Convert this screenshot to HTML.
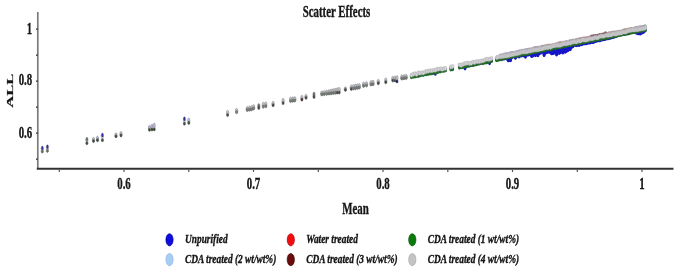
<!DOCTYPE html><html><head><meta charset="utf-8"><style>html,body{margin:0;padding:0;background:#fff;width:685px;height:274px;overflow:hidden}svg{display:block}text{font-family:"Liberation Serif",serif;font-weight:bold;fill:#141414;stroke:#141414;stroke-width:0.35}</style></head><body>
<svg width="685" height="274" viewBox="0 0 685 274">
<defs><filter id="b" x="-5%" y="-5%" width="110%" height="110%"><feGaussianBlur stdDeviation="0.35"/></filter></defs>
<rect width="685" height="274" fill="#fff"/>
<g filter="url(#b)">
<ellipse cx="42.3" cy="149.55" rx="1.12" ry="2.1" fill="#e2e2e6" stroke="#9a9a9a" stroke-width="0.4"/>
<ellipse cx="42.3" cy="148.10" rx="1.12" ry="2.1" fill="#2a2a9c" stroke="#7a7a88" stroke-width="0.4"/>
<ellipse cx="42.3" cy="151.50" rx="1.12" ry="1.6" fill="#6a6e58" stroke="#4a4a4a" stroke-width="0.4"/>
<ellipse cx="47.4" cy="148.55" rx="1.12" ry="2.1" fill="#e2e2e6" stroke="#9a9a9a" stroke-width="0.4"/>
<ellipse cx="47.4" cy="146.80" rx="1.12" ry="2.1" fill="#2a2a9c" stroke="#7a7a88" stroke-width="0.4"/>
<ellipse cx="47.4" cy="150.80" rx="1.12" ry="1.6" fill="#6a6e58" stroke="#4a4a4a" stroke-width="0.4"/>
<ellipse cx="86.9" cy="141.00" rx="1.12" ry="2.1" fill="#e2e2e6" stroke="#9a9a9a" stroke-width="0.4"/>
<ellipse cx="86.9" cy="139.30" rx="1.12" ry="2.1" fill="#6a6a74" stroke="#7a7a88" stroke-width="0.4"/>
<ellipse cx="86.9" cy="143.20" rx="1.12" ry="1.6" fill="#4a4c48" stroke="#4a4a4a" stroke-width="0.4"/>
<ellipse cx="93.5" cy="139.90" rx="1.12" ry="2.1" fill="#e2e2e6" stroke="#9a9a9a" stroke-width="0.4"/>
<ellipse cx="93.5" cy="139.30" rx="1.12" ry="2.1" fill="#c4c4c4" stroke="#7a7a88" stroke-width="0.4"/>
<ellipse cx="93.5" cy="141.00" rx="1.12" ry="1.6" fill="#2e5432" stroke="#4a4a4a" stroke-width="0.4"/>
<ellipse cx="97.5" cy="138.95" rx="1.12" ry="2.1" fill="#e2e2e6" stroke="#9a9a9a" stroke-width="0.4"/>
<ellipse cx="97.5" cy="138.20" rx="1.12" ry="2.1" fill="#bcbce0" stroke="#7a7a88" stroke-width="0.4"/>
<ellipse cx="97.5" cy="140.20" rx="1.12" ry="1.6" fill="#2e5432" stroke="#4a4a4a" stroke-width="0.4"/>
<ellipse cx="102.4" cy="137.45" rx="1.12" ry="2.1" fill="#e2e2e6" stroke="#9a9a9a" stroke-width="0.4"/>
<ellipse cx="102.4" cy="135.20" rx="1.12" ry="2.1" fill="#2a2a9c" stroke="#7a7a88" stroke-width="0.4"/>
<ellipse cx="102.4" cy="140.20" rx="1.12" ry="1.6" fill="#4a4c48" stroke="#4a4a4a" stroke-width="0.4"/>
<ellipse cx="116" cy="135.30" rx="1.12" ry="2.1" fill="#e2e2e6" stroke="#9a9a9a" stroke-width="0.4"/>
<ellipse cx="116" cy="134.80" rx="1.12" ry="2.1" fill="#c4c4c4" stroke="#7a7a88" stroke-width="0.4"/>
<ellipse cx="116" cy="136.30" rx="1.12" ry="1.6" fill="#4a4c48" stroke="#4a4a4a" stroke-width="0.4"/>
<ellipse cx="121" cy="134.20" rx="1.12" ry="2.1" fill="#e2e2e6" stroke="#9a9a9a" stroke-width="0.4"/>
<ellipse cx="121" cy="133.50" rx="1.12" ry="2.1" fill="#c4c4c4" stroke="#7a7a88" stroke-width="0.4"/>
<ellipse cx="121" cy="135.40" rx="1.12" ry="1.6" fill="#4a4c48" stroke="#4a4a4a" stroke-width="0.4"/>
<ellipse cx="149.5" cy="128.35" rx="1.12" ry="2.1" fill="#e2e2e6" stroke="#9a9a9a" stroke-width="0.4"/>
<ellipse cx="149.5" cy="127.40" rx="1.12" ry="2.1" fill="#bcbce0" stroke="#7a7a88" stroke-width="0.4"/>
<ellipse cx="149.5" cy="129.80" rx="1.12" ry="1.6" fill="#3a4a28" stroke="#4a4a4a" stroke-width="0.4"/>
<ellipse cx="152" cy="127.65" rx="1.12" ry="2.1" fill="#e2e2e6" stroke="#9a9a9a" stroke-width="0.4"/>
<ellipse cx="152" cy="126.30" rx="1.12" ry="2.1" fill="#bcbce0" stroke="#7a7a88" stroke-width="0.4"/>
<ellipse cx="152" cy="129.50" rx="1.12" ry="1.6" fill="#3a4a28" stroke="#4a4a4a" stroke-width="0.4"/>
<ellipse cx="154.2" cy="127.00" rx="1.12" ry="2.1" fill="#e2e2e6" stroke="#9a9a9a" stroke-width="0.4"/>
<ellipse cx="154.2" cy="125.20" rx="1.12" ry="2.1" fill="#bcbce0" stroke="#7a7a88" stroke-width="0.4"/>
<ellipse cx="154.2" cy="129.30" rx="1.12" ry="1.6" fill="#3a4a28" stroke="#4a4a4a" stroke-width="0.4"/>
<ellipse cx="184.4" cy="121.05" rx="1.12" ry="2.1" fill="#e2e2e6" stroke="#9a9a9a" stroke-width="0.4"/>
<ellipse cx="184.4" cy="118.90" rx="1.12" ry="2.1" fill="#2a2a9c" stroke="#7a7a88" stroke-width="0.4"/>
<ellipse cx="184.4" cy="123.70" rx="1.12" ry="1.6" fill="#4a4c48" stroke="#4a4a4a" stroke-width="0.4"/>
<ellipse cx="188.8" cy="121.20" rx="1.12" ry="2.1" fill="#e2e2e6" stroke="#9a9a9a" stroke-width="0.4"/>
<ellipse cx="188.8" cy="120.00" rx="1.12" ry="2.1" fill="#bcbce0" stroke="#7a7a88" stroke-width="0.4"/>
<ellipse cx="188.8" cy="122.90" rx="1.12" ry="1.6" fill="#2e5432" stroke="#4a4a4a" stroke-width="0.4"/>
<ellipse cx="227.6" cy="113.40" rx="1.12" ry="2.1" fill="#e2e2e6" stroke="#9a9a9a" stroke-width="0.4"/>
<ellipse cx="227.6" cy="112.30" rx="1.12" ry="2.1" fill="#c4c4c4" stroke="#7a7a88" stroke-width="0.4"/>
<ellipse cx="227.6" cy="115.00" rx="1.12" ry="1.6" fill="#4a4c48" stroke="#4a4a4a" stroke-width="0.4"/>
<ellipse cx="236.6" cy="111.05" rx="1.12" ry="2.1" fill="#e2e2e6" stroke="#9a9a9a" stroke-width="0.4"/>
<ellipse cx="236.6" cy="110.40" rx="1.12" ry="2.1" fill="#c4c4c4" stroke="#7a7a88" stroke-width="0.4"/>
<ellipse cx="236.6" cy="112.20" rx="1.12" ry="1.6" fill="#8a8a8a" stroke="#4a4a4a" stroke-width="0.4"/>
<ellipse cx="247.3" cy="108.95" rx="1.12" ry="2.1" fill="#e2e2e6" stroke="#9a9a9a" stroke-width="0.4"/>
<ellipse cx="247.3" cy="108.50" rx="1.12" ry="2.1" fill="#c4c4c4" stroke="#7a7a88" stroke-width="0.4"/>
<ellipse cx="247.3" cy="109.90" rx="1.12" ry="1.6" fill="#7a847a" stroke="#4a4a4a" stroke-width="0.4"/>
<ellipse cx="249.5" cy="108.60" rx="1.12" ry="2.1" fill="#e2e2e6" stroke="#9a9a9a" stroke-width="0.4"/>
<ellipse cx="249.5" cy="108.00" rx="1.12" ry="2.1" fill="#c4c4c4" stroke="#7a7a88" stroke-width="0.4"/>
<ellipse cx="249.5" cy="109.70" rx="1.12" ry="1.6" fill="#7a847a" stroke="#4a4a4a" stroke-width="0.4"/>
<ellipse cx="251.5" cy="108.15" rx="1.12" ry="2.1" fill="#e2e2e6" stroke="#9a9a9a" stroke-width="0.4"/>
<ellipse cx="251.5" cy="107.50" rx="1.12" ry="2.1" fill="#c4c4c4" stroke="#7a7a88" stroke-width="0.4"/>
<ellipse cx="251.5" cy="109.30" rx="1.12" ry="1.6" fill="#7a847a" stroke="#4a4a4a" stroke-width="0.4"/>
<ellipse cx="253.6" cy="107.30" rx="1.12" ry="2.1" fill="#e2e2e6" stroke="#9a9a9a" stroke-width="0.4"/>
<ellipse cx="253.6" cy="106.60" rx="1.12" ry="2.1" fill="#c4c4c4" stroke="#7a7a88" stroke-width="0.4"/>
<ellipse cx="253.6" cy="108.50" rx="1.12" ry="1.6" fill="#7a847a" stroke="#4a4a4a" stroke-width="0.4"/>
<ellipse cx="258.8" cy="106.55" rx="1.12" ry="2.1" fill="#e2e2e6" stroke="#9a9a9a" stroke-width="0.4"/>
<ellipse cx="258.8" cy="105.70" rx="1.12" ry="2.1" fill="#6a6a74" stroke="#7a7a88" stroke-width="0.4"/>
<ellipse cx="258.8" cy="107.90" rx="1.12" ry="1.6" fill="#4a4c48" stroke="#4a4a4a" stroke-width="0.4"/>
<ellipse cx="263.3" cy="105.25" rx="1.12" ry="2.1" fill="#e2e2e6" stroke="#9a9a9a" stroke-width="0.4"/>
<ellipse cx="263.3" cy="104.30" rx="1.12" ry="2.1" fill="#c4c4c4" stroke="#7a7a88" stroke-width="0.4"/>
<ellipse cx="263.3" cy="106.70" rx="1.12" ry="1.6" fill="#7a847a" stroke="#4a4a4a" stroke-width="0.4"/>
<ellipse cx="265.8" cy="104.80" rx="1.12" ry="2.1" fill="#e2e2e6" stroke="#9a9a9a" stroke-width="0.4"/>
<ellipse cx="265.8" cy="103.90" rx="1.12" ry="2.1" fill="#c4c4c4" stroke="#7a7a88" stroke-width="0.4"/>
<ellipse cx="265.8" cy="106.20" rx="1.12" ry="1.6" fill="#7a847a" stroke="#4a4a4a" stroke-width="0.4"/>
<ellipse cx="273.1" cy="104.00" rx="1.12" ry="2.1" fill="#e2e2e6" stroke="#9a9a9a" stroke-width="0.4"/>
<ellipse cx="273.1" cy="103.30" rx="1.12" ry="2.1" fill="#c4c4c4" stroke="#7a7a88" stroke-width="0.4"/>
<ellipse cx="273.1" cy="105.20" rx="1.12" ry="1.6" fill="#4a4c48" stroke="#4a4a4a" stroke-width="0.4"/>
<ellipse cx="283.1" cy="101.45" rx="1.12" ry="2.1" fill="#e2e2e6" stroke="#9a9a9a" stroke-width="0.4"/>
<ellipse cx="283.1" cy="100.30" rx="1.12" ry="2.1" fill="#c4c4c4" stroke="#7a7a88" stroke-width="0.4"/>
<ellipse cx="283.1" cy="103.10" rx="1.12" ry="1.6" fill="#4a4c48" stroke="#4a4a4a" stroke-width="0.4"/>
<ellipse cx="290.6" cy="99.80" rx="1.12" ry="2.1" fill="#e2e2e6" stroke="#9a9a9a" stroke-width="0.4"/>
<ellipse cx="290.6" cy="99.10" rx="1.12" ry="2.1" fill="#c4c4c4" stroke="#7a7a88" stroke-width="0.4"/>
<ellipse cx="290.6" cy="101.00" rx="1.12" ry="1.6" fill="#7a847a" stroke="#4a4a4a" stroke-width="0.4"/>
<ellipse cx="292.8" cy="99.50" rx="1.12" ry="2.1" fill="#e2e2e6" stroke="#9a9a9a" stroke-width="0.4"/>
<ellipse cx="292.8" cy="98.80" rx="1.12" ry="2.1" fill="#c4c4c4" stroke="#7a7a88" stroke-width="0.4"/>
<ellipse cx="292.8" cy="100.70" rx="1.12" ry="1.6" fill="#7a847a" stroke="#4a4a4a" stroke-width="0.4"/>
<ellipse cx="294.8" cy="99.30" rx="1.12" ry="2.1" fill="#e2e2e6" stroke="#9a9a9a" stroke-width="0.4"/>
<ellipse cx="294.8" cy="98.60" rx="1.12" ry="2.1" fill="#c4c4c4" stroke="#7a7a88" stroke-width="0.4"/>
<ellipse cx="294.8" cy="100.50" rx="1.12" ry="1.6" fill="#7a847a" stroke="#4a4a4a" stroke-width="0.4"/>
<ellipse cx="301.9" cy="98.20" rx="1.12" ry="2.1" fill="#e2e2e6" stroke="#9a9a9a" stroke-width="0.4"/>
<ellipse cx="301.9" cy="97.30" rx="1.12" ry="2.1" fill="#c4c4c4" stroke="#7a7a88" stroke-width="0.4"/>
<ellipse cx="301.9" cy="99.60" rx="1.12" ry="1.6" fill="#5a2a20" stroke="#4a4a4a" stroke-width="0.4"/>
<ellipse cx="306" cy="96.85" rx="1.12" ry="2.1" fill="#e2e2e6" stroke="#9a9a9a" stroke-width="0.4"/>
<ellipse cx="306" cy="96.40" rx="1.12" ry="2.1" fill="#c4c4c4" stroke="#7a7a88" stroke-width="0.4"/>
<ellipse cx="306" cy="97.80" rx="1.12" ry="1.6" fill="#4a4c48" stroke="#4a4a4a" stroke-width="0.4"/>
<ellipse cx="314" cy="95.25" rx="1.12" ry="2.1" fill="#e2e2e6" stroke="#9a9a9a" stroke-width="0.4"/>
<ellipse cx="314" cy="94.10" rx="1.12" ry="2.1" fill="#6a6a74" stroke="#7a7a88" stroke-width="0.4"/>
<ellipse cx="314" cy="96.90" rx="1.12" ry="1.6" fill="#4a4c48" stroke="#4a4a4a" stroke-width="0.4"/>
<ellipse cx="321.8" cy="93.40" rx="1.12" ry="2.1" fill="#e2e2e6" stroke="#9a9a9a" stroke-width="0.4"/>
<ellipse cx="321.8" cy="92.90" rx="1.12" ry="2.1" fill="#c4c4c4" stroke="#7a7a88" stroke-width="0.4"/>
<ellipse cx="321.8" cy="94.40" rx="1.12" ry="1.6" fill="#7a847a" stroke="#4a4a4a" stroke-width="0.4"/>
<ellipse cx="324.2" cy="93.05" rx="1.12" ry="2.1" fill="#e2e2e6" stroke="#9a9a9a" stroke-width="0.4"/>
<ellipse cx="324.2" cy="92.50" rx="1.12" ry="2.1" fill="#c4c4c4" stroke="#7a7a88" stroke-width="0.4"/>
<ellipse cx="324.2" cy="94.10" rx="1.12" ry="1.6" fill="#7a847a" stroke="#4a4a4a" stroke-width="0.4"/>
<ellipse cx="326.6" cy="92.70" rx="1.12" ry="2.1" fill="#e2e2e6" stroke="#9a9a9a" stroke-width="0.4"/>
<ellipse cx="326.6" cy="92.10" rx="1.12" ry="2.1" fill="#c4c4c4" stroke="#7a7a88" stroke-width="0.4"/>
<ellipse cx="326.6" cy="93.80" rx="1.12" ry="1.6" fill="#7a847a" stroke="#4a4a4a" stroke-width="0.4"/>
<ellipse cx="328.9" cy="92.30" rx="1.12" ry="2.1" fill="#e2e2e6" stroke="#9a9a9a" stroke-width="0.4"/>
<ellipse cx="328.9" cy="91.60" rx="1.12" ry="2.1" fill="#c4c4c4" stroke="#7a7a88" stroke-width="0.4"/>
<ellipse cx="328.9" cy="93.50" rx="1.12" ry="1.6" fill="#7a847a" stroke="#4a4a4a" stroke-width="0.4"/>
<ellipse cx="331.1" cy="91.95" rx="1.12" ry="2.1" fill="#e2e2e6" stroke="#9a9a9a" stroke-width="0.4"/>
<ellipse cx="331.1" cy="91.10" rx="1.12" ry="2.1" fill="#c4c4c4" stroke="#7a7a88" stroke-width="0.4"/>
<ellipse cx="331.1" cy="93.30" rx="1.12" ry="1.6" fill="#7a847a" stroke="#4a4a4a" stroke-width="0.4"/>
<ellipse cx="333.2" cy="91.60" rx="1.12" ry="2.1" fill="#e2e2e6" stroke="#9a9a9a" stroke-width="0.4"/>
<ellipse cx="333.2" cy="90.70" rx="1.12" ry="2.1" fill="#c4c4c4" stroke="#7a7a88" stroke-width="0.4"/>
<ellipse cx="333.2" cy="93.00" rx="1.12" ry="1.6" fill="#7a847a" stroke="#4a4a4a" stroke-width="0.4"/>
<ellipse cx="335.2" cy="91.30" rx="1.12" ry="2.1" fill="#e2e2e6" stroke="#9a9a9a" stroke-width="0.4"/>
<ellipse cx="335.2" cy="90.30" rx="1.12" ry="2.1" fill="#c4c4c4" stroke="#7a7a88" stroke-width="0.4"/>
<ellipse cx="335.2" cy="92.80" rx="1.12" ry="1.6" fill="#7a847a" stroke="#4a4a4a" stroke-width="0.4"/>
<ellipse cx="337.2" cy="90.95" rx="1.12" ry="2.1" fill="#e2e2e6" stroke="#9a9a9a" stroke-width="0.4"/>
<ellipse cx="337.2" cy="89.80" rx="1.12" ry="2.1" fill="#c4c4c4" stroke="#7a7a88" stroke-width="0.4"/>
<ellipse cx="337.2" cy="92.60" rx="1.12" ry="1.6" fill="#4a4c48" stroke="#4a4a4a" stroke-width="0.4"/>
<ellipse cx="339.2" cy="90.65" rx="1.12" ry="2.1" fill="#e2e2e6" stroke="#9a9a9a" stroke-width="0.4"/>
<ellipse cx="339.2" cy="89.30" rx="1.12" ry="2.1" fill="#c4c4c4" stroke="#7a7a88" stroke-width="0.4"/>
<ellipse cx="339.2" cy="92.50" rx="1.12" ry="1.6" fill="#4a4c48" stroke="#4a4a4a" stroke-width="0.4"/>
<ellipse cx="345.4" cy="89.05" rx="1.12" ry="2.1" fill="#e2e2e6" stroke="#9a9a9a" stroke-width="0.4"/>
<ellipse cx="345.4" cy="88.80" rx="1.12" ry="2.1" fill="#c4c4c4" stroke="#7a7a88" stroke-width="0.4"/>
<ellipse cx="345.4" cy="89.80" rx="1.12" ry="1.6" fill="#4a4c48" stroke="#4a4a4a" stroke-width="0.4"/>
<ellipse cx="351.3" cy="87.70" rx="1.12" ry="2.1" fill="#e2e2e6" stroke="#9a9a9a" stroke-width="0.4"/>
<ellipse cx="351.3" cy="87.00" rx="1.12" ry="2.1" fill="#c4c4c4" stroke="#7a7a88" stroke-width="0.4"/>
<ellipse cx="351.3" cy="88.90" rx="1.12" ry="1.6" fill="#4a4c48" stroke="#4a4a4a" stroke-width="0.4"/>
<ellipse cx="353.4" cy="87.25" rx="1.12" ry="2.1" fill="#e2e2e6" stroke="#9a9a9a" stroke-width="0.4"/>
<ellipse cx="353.4" cy="86.50" rx="1.12" ry="2.1" fill="#c4c4c4" stroke="#7a7a88" stroke-width="0.4"/>
<ellipse cx="353.4" cy="88.50" rx="1.12" ry="1.6" fill="#7a847a" stroke="#4a4a4a" stroke-width="0.4"/>
<ellipse cx="355.5" cy="86.90" rx="1.12" ry="2.1" fill="#e2e2e6" stroke="#9a9a9a" stroke-width="0.4"/>
<ellipse cx="355.5" cy="86.10" rx="1.12" ry="2.1" fill="#c4c4c4" stroke="#7a7a88" stroke-width="0.4"/>
<ellipse cx="355.5" cy="88.20" rx="1.12" ry="1.6" fill="#7a847a" stroke="#4a4a4a" stroke-width="0.4"/>
<ellipse cx="357.5" cy="86.55" rx="1.12" ry="2.1" fill="#e2e2e6" stroke="#9a9a9a" stroke-width="0.4"/>
<ellipse cx="357.5" cy="85.80" rx="1.12" ry="2.1" fill="#c4c4c4" stroke="#7a7a88" stroke-width="0.4"/>
<ellipse cx="357.5" cy="87.80" rx="1.12" ry="1.6" fill="#7a847a" stroke="#4a4a4a" stroke-width="0.4"/>
<ellipse cx="359.3" cy="86.30" rx="1.12" ry="2.1" fill="#e2e2e6" stroke="#9a9a9a" stroke-width="0.4"/>
<ellipse cx="359.3" cy="85.60" rx="1.12" ry="2.1" fill="#c4c4c4" stroke="#7a7a88" stroke-width="0.4"/>
<ellipse cx="359.3" cy="87.50" rx="1.12" ry="1.6" fill="#7a847a" stroke="#4a4a4a" stroke-width="0.4"/>
<ellipse cx="363.6" cy="84.75" rx="1.12" ry="2.1" fill="#e2e2e6" stroke="#9a9a9a" stroke-width="0.4"/>
<ellipse cx="363.6" cy="84.10" rx="1.12" ry="2.1" fill="#c4c4c4" stroke="#7a7a88" stroke-width="0.4"/>
<ellipse cx="363.6" cy="85.90" rx="1.12" ry="1.6" fill="#7a847a" stroke="#4a4a4a" stroke-width="0.4"/>
<ellipse cx="366.5" cy="84.30" rx="1.12" ry="2.1" fill="#e2e2e6" stroke="#9a9a9a" stroke-width="0.4"/>
<ellipse cx="366.5" cy="83.60" rx="1.12" ry="2.1" fill="#c4c4c4" stroke="#7a7a88" stroke-width="0.4"/>
<ellipse cx="366.5" cy="85.50" rx="1.12" ry="1.6" fill="#7a847a" stroke="#4a4a4a" stroke-width="0.4"/>
<ellipse cx="371" cy="83.25" rx="1.12" ry="2.1" fill="#e2e2e6" stroke="#9a9a9a" stroke-width="0.4"/>
<ellipse cx="371" cy="82.50" rx="1.12" ry="2.1" fill="#c4c4c4" stroke="#7a7a88" stroke-width="0.4"/>
<ellipse cx="371" cy="84.50" rx="1.12" ry="1.6" fill="#7a847a" stroke="#4a4a4a" stroke-width="0.4"/>
<ellipse cx="373" cy="82.95" rx="1.12" ry="2.1" fill="#e2e2e6" stroke="#9a9a9a" stroke-width="0.4"/>
<ellipse cx="373" cy="82.20" rx="1.12" ry="2.1" fill="#c4c4c4" stroke="#7a7a88" stroke-width="0.4"/>
<ellipse cx="373" cy="84.20" rx="1.12" ry="1.6" fill="#7a847a" stroke="#4a4a4a" stroke-width="0.4"/>
<ellipse cx="378.3" cy="82.00" rx="1.12" ry="2.1" fill="#e2e2e6" stroke="#9a9a9a" stroke-width="0.4"/>
<ellipse cx="378.3" cy="81.30" rx="1.12" ry="2.1" fill="#c4c4c4" stroke="#7a7a88" stroke-width="0.4"/>
<ellipse cx="378.3" cy="83.20" rx="1.12" ry="1.6" fill="#4a4c48" stroke="#4a4a4a" stroke-width="0.4"/>
<ellipse cx="385.8" cy="80.80" rx="1.12" ry="2.1" fill="#e2e2e6" stroke="#9a9a9a" stroke-width="0.4"/>
<ellipse cx="385.8" cy="79.90" rx="1.12" ry="2.1" fill="#c4c4c4" stroke="#7a7a88" stroke-width="0.4"/>
<ellipse cx="385.8" cy="82.20" rx="1.12" ry="1.6" fill="#2e5432" stroke="#4a4a4a" stroke-width="0.4"/>
<ellipse cx="392.8" cy="79.15" rx="1.12" ry="2.1" fill="#e2e2e6" stroke="#9a9a9a" stroke-width="0.4"/>
<ellipse cx="392.8" cy="78.30" rx="1.12" ry="2.1" fill="#c4c4c4" stroke="#7a7a88" stroke-width="0.4"/>
<ellipse cx="392.8" cy="80.50" rx="1.12" ry="1.6" fill="#4a4c48" stroke="#4a4a4a" stroke-width="0.4"/>
<ellipse cx="395" cy="79.00" rx="1.12" ry="2.1" fill="#e2e2e6" stroke="#9a9a9a" stroke-width="0.4"/>
<ellipse cx="395" cy="78.00" rx="1.12" ry="2.1" fill="#c4c4c4" stroke="#7a7a88" stroke-width="0.4"/>
<ellipse cx="395" cy="80.50" rx="1.12" ry="1.6" fill="#4a4c48" stroke="#4a4a4a" stroke-width="0.4"/>
<ellipse cx="397" cy="79.25" rx="1.12" ry="2.1" fill="#e2e2e6" stroke="#9a9a9a" stroke-width="0.4"/>
<ellipse cx="397" cy="77.60" rx="1.12" ry="2.1" fill="#c4c4c4" stroke="#7a7a88" stroke-width="0.4"/>
<ellipse cx="397" cy="81.40" rx="1.12" ry="1.6" fill="#1a1a80" stroke="#4a4a4a" stroke-width="0.4"/>
<ellipse cx="401.8" cy="77.45" rx="1.12" ry="2.1" fill="#e2e2e6" stroke="#9a9a9a" stroke-width="0.4"/>
<ellipse cx="401.8" cy="76.80" rx="1.12" ry="2.1" fill="#c4c4c4" stroke="#7a7a88" stroke-width="0.4"/>
<ellipse cx="401.8" cy="78.60" rx="1.12" ry="1.6" fill="#7a847a" stroke="#4a4a4a" stroke-width="0.4"/>
<ellipse cx="404" cy="77.15" rx="1.12" ry="2.1" fill="#e2e2e6" stroke="#9a9a9a" stroke-width="0.4"/>
<ellipse cx="404" cy="76.50" rx="1.12" ry="2.1" fill="#c4c4c4" stroke="#7a7a88" stroke-width="0.4"/>
<ellipse cx="404" cy="78.30" rx="1.12" ry="1.6" fill="#7a847a" stroke="#4a4a4a" stroke-width="0.4"/>
<ellipse cx="406.2" cy="76.90" rx="1.12" ry="2.1" fill="#e2e2e6" stroke="#9a9a9a" stroke-width="0.4"/>
<ellipse cx="406.2" cy="76.30" rx="1.12" ry="2.1" fill="#c4c4c4" stroke="#7a7a88" stroke-width="0.4"/>
<ellipse cx="406.2" cy="78.00" rx="1.12" ry="1.6" fill="#7a847a" stroke="#4a4a4a" stroke-width="0.4"/>
<g fill="#1616c8"><ellipse cx="411.4" cy="76.18" rx="1.45" ry="2.1"/><ellipse cx="413.1" cy="75.95" rx="1.45" ry="2.1"/><ellipse cx="414.9" cy="75.66" rx="1.45" ry="2.1"/><ellipse cx="416.6" cy="75.45" rx="1.45" ry="2.1"/><ellipse cx="418.2" cy="74.96" rx="1.45" ry="2.1"/><ellipse cx="419.9" cy="74.78" rx="1.45" ry="2.1"/><ellipse cx="421.6" cy="73.74" rx="1.45" ry="2.1"/><ellipse cx="423.4" cy="73.76" rx="1.45" ry="2.1"/><ellipse cx="425.1" cy="73.82" rx="1.45" ry="2.1"/><ellipse cx="426.8" cy="73.25" rx="1.45" ry="2.1"/><ellipse cx="428.4" cy="73.13" rx="1.45" ry="2.1"/><ellipse cx="430.1" cy="72.17" rx="1.45" ry="2.1"/><ellipse cx="431.9" cy="72.13" rx="1.45" ry="2.1"/><ellipse cx="433.6" cy="71.62" rx="1.45" ry="2.1"/><ellipse cx="435.2" cy="71.53" rx="1.45" ry="2.1"/><ellipse cx="436.9" cy="71.23" rx="1.45" ry="2.1"/><ellipse cx="438.6" cy="70.45" rx="1.45" ry="2.1"/><ellipse cx="440.4" cy="70.28" rx="1.45" ry="2.1"/><ellipse cx="442.1" cy="70.01" rx="1.45" ry="2.1"/><ellipse cx="443.8" cy="70.17" rx="1.45" ry="2.1"/><ellipse cx="443.8" cy="70.19" rx="1.45" ry="2.1"/><ellipse cx="445.4" cy="69.74" rx="1.45" ry="2.1"/><ellipse cx="450.9" cy="68.21" rx="1.45" ry="2.1"/><ellipse cx="452.6" cy="68.40" rx="1.45" ry="2.1"/><ellipse cx="459.4" cy="66.56" rx="1.45" ry="2.1"/><ellipse cx="461.1" cy="66.61" rx="1.45" ry="2.1"/><ellipse cx="462.8" cy="65.89" rx="1.45" ry="2.1"/><ellipse cx="464.4" cy="65.47" rx="1.45" ry="2.1"/><ellipse cx="466.1" cy="65.69" rx="1.45" ry="2.1"/><ellipse cx="466.1" cy="65.83" rx="1.45" ry="2.1"/><ellipse cx="467.9" cy="64.98" rx="1.45" ry="2.1"/><ellipse cx="469.6" cy="64.65" rx="1.45" ry="2.1"/><ellipse cx="471.2" cy="64.66" rx="1.45" ry="2.1"/><ellipse cx="471.2" cy="64.94" rx="1.45" ry="2.1"/><ellipse cx="472.9" cy="64.32" rx="1.45" ry="2.1"/><ellipse cx="472.9" cy="64.52" rx="1.45" ry="2.1"/><ellipse cx="474.6" cy="63.73" rx="1.45" ry="2.1"/><ellipse cx="476.4" cy="63.64" rx="1.45" ry="2.1"/><ellipse cx="476.4" cy="63.94" rx="1.45" ry="2.1"/><ellipse cx="478.1" cy="63.27" rx="1.45" ry="2.1"/><ellipse cx="479.8" cy="62.96" rx="1.45" ry="2.1"/><ellipse cx="479.8" cy="63.06" rx="1.45" ry="2.1"/><ellipse cx="481.4" cy="62.35" rx="1.45" ry="2.1"/><ellipse cx="483.1" cy="62.28" rx="1.45" ry="2.1"/><ellipse cx="483.1" cy="62.61" rx="1.45" ry="2.1"/><ellipse cx="484.9" cy="61.94" rx="1.45" ry="2.1"/><ellipse cx="484.9" cy="62.08" rx="1.45" ry="2.1"/><ellipse cx="486.6" cy="61.60" rx="1.45" ry="2.1"/><ellipse cx="486.6" cy="61.98" rx="1.45" ry="2.1"/><ellipse cx="488.2" cy="61.26" rx="1.45" ry="2.1"/><ellipse cx="488.2" cy="61.59" rx="1.45" ry="2.1"/><ellipse cx="489.9" cy="60.79" rx="1.45" ry="2.1"/><ellipse cx="491.6" cy="60.51" rx="1.45" ry="2.1"/><ellipse cx="496.6" cy="59.39" rx="1.45" ry="2.1"/><ellipse cx="497.9" cy="59.13" rx="1.45" ry="2.1"/><ellipse cx="499.1" cy="58.82" rx="1.45" ry="2.1"/><ellipse cx="500.4" cy="58.78" rx="1.45" ry="2.1"/><ellipse cx="501.6" cy="58.58" rx="1.45" ry="2.1"/><ellipse cx="501.6" cy="58.80" rx="1.45" ry="2.1"/><ellipse cx="502.9" cy="58.11" rx="1.45" ry="2.1"/><ellipse cx="504.1" cy="58.08" rx="1.45" ry="2.1"/><ellipse cx="504.1" cy="58.43" rx="1.45" ry="2.1"/><ellipse cx="505.4" cy="57.81" rx="1.45" ry="2.1"/><ellipse cx="506.6" cy="57.58" rx="1.45" ry="2.1"/><ellipse cx="506.6" cy="58.36" rx="1.45" ry="2.1"/><ellipse cx="507.9" cy="57.33" rx="1.45" ry="2.1"/><ellipse cx="507.9" cy="57.34" rx="1.45" ry="2.1"/><ellipse cx="509.1" cy="57.08" rx="1.45" ry="2.1"/><ellipse cx="509.1" cy="58.58" rx="1.45" ry="2.1"/><ellipse cx="509.1" cy="59.95" rx="1.45" ry="2.1"/><ellipse cx="510.4" cy="56.83" rx="1.45" ry="2.1"/><ellipse cx="510.4" cy="58.33" rx="1.45" ry="2.1"/><ellipse cx="510.4" cy="59.83" rx="1.45" ry="2.1"/><ellipse cx="510.4" cy="60.16" rx="1.45" ry="2.1"/><ellipse cx="511.6" cy="56.58" rx="1.45" ry="2.1"/><ellipse cx="511.6" cy="57.39" rx="1.45" ry="2.1"/><ellipse cx="512.9" cy="56.00" rx="1.45" ry="2.1"/><ellipse cx="514.1" cy="56.08" rx="1.45" ry="2.1"/><ellipse cx="514.1" cy="56.34" rx="1.45" ry="2.1"/><ellipse cx="515.4" cy="55.83" rx="1.45" ry="2.1"/><ellipse cx="515.4" cy="57.33" rx="1.45" ry="2.1"/><ellipse cx="515.4" cy="57.76" rx="1.45" ry="2.1"/><ellipse cx="516.6" cy="55.58" rx="1.45" ry="2.1"/><ellipse cx="516.6" cy="55.66" rx="1.45" ry="2.1"/><ellipse cx="517.9" cy="55.32" rx="1.45" ry="2.1"/><ellipse cx="517.9" cy="55.51" rx="1.45" ry="2.1"/><ellipse cx="519.1" cy="55.07" rx="1.45" ry="2.1"/><ellipse cx="519.1" cy="56.50" rx="1.45" ry="2.1"/><ellipse cx="520.4" cy="54.82" rx="1.45" ry="2.1"/><ellipse cx="520.4" cy="55.38" rx="1.45" ry="2.1"/><ellipse cx="521.6" cy="54.57" rx="1.45" ry="2.1"/><ellipse cx="521.6" cy="55.49" rx="1.45" ry="2.1"/><ellipse cx="522.9" cy="54.32" rx="1.45" ry="2.1"/><ellipse cx="522.9" cy="54.64" rx="1.45" ry="2.1"/><ellipse cx="524.1" cy="54.07" rx="1.45" ry="2.1"/><ellipse cx="524.1" cy="55.56" rx="1.45" ry="2.1"/><ellipse cx="525.4" cy="53.82" rx="1.45" ry="2.1"/><ellipse cx="525.4" cy="54.16" rx="1.45" ry="2.1"/><ellipse cx="526.6" cy="53.57" rx="1.45" ry="2.1"/><ellipse cx="526.6" cy="54.07" rx="1.45" ry="2.1"/><ellipse cx="527.9" cy="53.32" rx="1.45" ry="2.1"/><ellipse cx="527.9" cy="54.71" rx="1.45" ry="2.1"/><ellipse cx="529.1" cy="53.07" rx="1.45" ry="2.1"/><ellipse cx="529.1" cy="54.10" rx="1.45" ry="2.1"/><ellipse cx="530.4" cy="52.82" rx="1.45" ry="2.1"/><ellipse cx="530.4" cy="54.24" rx="1.45" ry="2.1"/><ellipse cx="531.6" cy="52.57" rx="1.45" ry="2.1"/><ellipse cx="531.6" cy="54.07" rx="1.45" ry="2.1"/><ellipse cx="531.6" cy="55.57" rx="1.45" ry="2.1"/><ellipse cx="531.6" cy="55.89" rx="1.45" ry="2.1"/><ellipse cx="532.9" cy="52.32" rx="1.45" ry="2.1"/><ellipse cx="532.9" cy="53.82" rx="1.45" ry="2.1"/><ellipse cx="532.9" cy="55.32" rx="1.45" ry="2.1"/><ellipse cx="532.9" cy="55.33" rx="1.45" ry="2.1"/><ellipse cx="534.1" cy="52.07" rx="1.45" ry="2.1"/><ellipse cx="534.1" cy="53.57" rx="1.45" ry="2.1"/><ellipse cx="534.1" cy="53.92" rx="1.45" ry="2.1"/><ellipse cx="535.4" cy="51.82" rx="1.45" ry="2.1"/><ellipse cx="535.4" cy="53.32" rx="1.45" ry="2.1"/><ellipse cx="535.4" cy="54.82" rx="1.45" ry="2.1"/><ellipse cx="535.4" cy="55.09" rx="1.45" ry="2.1"/><ellipse cx="536.6" cy="51.57" rx="1.45" ry="2.1"/><ellipse cx="536.6" cy="53.07" rx="1.45" ry="2.1"/><ellipse cx="536.6" cy="54.03" rx="1.45" ry="2.1"/><ellipse cx="537.9" cy="51.32" rx="1.45" ry="2.1"/><ellipse cx="537.9" cy="52.82" rx="1.45" ry="2.1"/><ellipse cx="537.9" cy="54.32" rx="1.45" ry="2.1"/><ellipse cx="537.9" cy="55.13" rx="1.45" ry="2.1"/><ellipse cx="539.1" cy="51.07" rx="1.45" ry="2.1"/><ellipse cx="539.1" cy="52.57" rx="1.45" ry="2.1"/><ellipse cx="539.1" cy="53.06" rx="1.45" ry="2.1"/><ellipse cx="540.4" cy="50.82" rx="1.45" ry="2.1"/><ellipse cx="540.4" cy="52.32" rx="1.45" ry="2.1"/><ellipse cx="540.4" cy="52.68" rx="1.45" ry="2.1"/><ellipse cx="541.6" cy="50.57" rx="1.45" ry="2.1"/><ellipse cx="541.6" cy="51.87" rx="1.45" ry="2.1"/><ellipse cx="542.9" cy="50.32" rx="1.45" ry="2.1"/><ellipse cx="542.9" cy="51.67" rx="1.45" ry="2.1"/><ellipse cx="544.1" cy="50.07" rx="1.45" ry="2.1"/><ellipse cx="544.1" cy="51.57" rx="1.45" ry="2.1"/><ellipse cx="544.1" cy="53.07" rx="1.45" ry="2.1"/><ellipse cx="544.1" cy="54.57" rx="1.45" ry="2.1"/><ellipse cx="544.1" cy="54.99" rx="1.45" ry="2.1"/><ellipse cx="545.4" cy="49.82" rx="1.45" ry="2.1"/><ellipse cx="545.4" cy="51.32" rx="1.45" ry="2.1"/><ellipse cx="545.4" cy="52.45" rx="1.45" ry="2.1"/><ellipse cx="546.6" cy="49.57" rx="1.45" ry="2.1"/><ellipse cx="546.6" cy="51.07" rx="1.45" ry="2.1"/><ellipse cx="546.6" cy="52.25" rx="1.45" ry="2.1"/><ellipse cx="547.9" cy="49.32" rx="1.45" ry="2.1"/><ellipse cx="547.9" cy="50.82" rx="1.45" ry="2.1"/><ellipse cx="547.9" cy="51.50" rx="1.45" ry="2.1"/><ellipse cx="549.1" cy="49.07" rx="1.45" ry="2.1"/><ellipse cx="549.1" cy="50.57" rx="1.45" ry="2.1"/><ellipse cx="549.1" cy="51.65" rx="1.45" ry="2.1"/><ellipse cx="550.4" cy="48.82" rx="1.45" ry="2.1"/><ellipse cx="550.4" cy="50.32" rx="1.45" ry="2.1"/><ellipse cx="550.4" cy="51.82" rx="1.45" ry="2.1"/><ellipse cx="550.4" cy="51.96" rx="1.45" ry="2.1"/><ellipse cx="551.6" cy="48.57" rx="1.45" ry="2.1"/><ellipse cx="551.6" cy="50.07" rx="1.45" ry="2.1"/><ellipse cx="551.6" cy="51.57" rx="1.45" ry="2.1"/><ellipse cx="551.6" cy="53.07" rx="1.45" ry="2.1"/><ellipse cx="551.6" cy="53.17" rx="1.45" ry="2.1"/><ellipse cx="552.9" cy="48.32" rx="1.45" ry="2.1"/><ellipse cx="552.9" cy="49.82" rx="1.45" ry="2.1"/><ellipse cx="552.9" cy="51.32" rx="1.45" ry="2.1"/><ellipse cx="552.9" cy="52.82" rx="1.45" ry="2.1"/><ellipse cx="552.9" cy="53.22" rx="1.45" ry="2.1"/><ellipse cx="554.1" cy="48.07" rx="1.45" ry="2.1"/><ellipse cx="554.1" cy="49.57" rx="1.45" ry="2.1"/><ellipse cx="554.1" cy="51.07" rx="1.45" ry="2.1"/><ellipse cx="554.1" cy="52.52" rx="1.45" ry="2.1"/><ellipse cx="555.4" cy="47.82" rx="1.45" ry="2.1"/><ellipse cx="555.4" cy="49.32" rx="1.45" ry="2.1"/><ellipse cx="555.4" cy="50.82" rx="1.45" ry="2.1"/><ellipse cx="555.4" cy="52.32" rx="1.45" ry="2.1"/><ellipse cx="555.4" cy="52.53" rx="1.45" ry="2.1"/><ellipse cx="556.6" cy="47.57" rx="1.45" ry="2.1"/><ellipse cx="556.6" cy="49.07" rx="1.45" ry="2.1"/><ellipse cx="556.6" cy="50.57" rx="1.45" ry="2.1"/><ellipse cx="556.6" cy="52.07" rx="1.45" ry="2.1"/><ellipse cx="556.6" cy="53.57" rx="1.45" ry="2.1"/><ellipse cx="556.6" cy="54.50" rx="1.45" ry="2.1"/><ellipse cx="557.9" cy="47.32" rx="1.45" ry="2.1"/><ellipse cx="557.9" cy="48.82" rx="1.45" ry="2.1"/><ellipse cx="557.9" cy="50.32" rx="1.45" ry="2.1"/><ellipse cx="557.9" cy="51.82" rx="1.45" ry="2.1"/><ellipse cx="557.9" cy="52.14" rx="1.45" ry="2.1"/><ellipse cx="559.1" cy="47.07" rx="1.45" ry="2.1"/><ellipse cx="559.1" cy="48.57" rx="1.45" ry="2.1"/><ellipse cx="559.1" cy="50.07" rx="1.45" ry="2.1"/><ellipse cx="559.1" cy="51.57" rx="1.45" ry="2.1"/><ellipse cx="559.1" cy="52.96" rx="1.45" ry="2.1"/><ellipse cx="560.4" cy="46.82" rx="1.45" ry="2.1"/><ellipse cx="560.4" cy="48.32" rx="1.45" ry="2.1"/><ellipse cx="560.4" cy="49.82" rx="1.45" ry="2.1"/><ellipse cx="560.4" cy="51.32" rx="1.45" ry="2.1"/><ellipse cx="560.4" cy="52.12" rx="1.45" ry="2.1"/><ellipse cx="561.6" cy="46.57" rx="1.45" ry="2.1"/><ellipse cx="561.6" cy="48.07" rx="1.45" ry="2.1"/><ellipse cx="561.6" cy="49.57" rx="1.45" ry="2.1"/><ellipse cx="561.6" cy="51.07" rx="1.45" ry="2.1"/><ellipse cx="561.6" cy="51.35" rx="1.45" ry="2.1"/><ellipse cx="562.9" cy="46.32" rx="1.45" ry="2.1"/><ellipse cx="562.9" cy="47.82" rx="1.45" ry="2.1"/><ellipse cx="562.9" cy="49.32" rx="1.45" ry="2.1"/><ellipse cx="562.9" cy="50.82" rx="1.45" ry="2.1"/><ellipse cx="562.9" cy="52.32" rx="1.45" ry="2.1"/><ellipse cx="562.9" cy="52.34" rx="1.45" ry="2.1"/><ellipse cx="564.1" cy="46.07" rx="1.45" ry="2.1"/><ellipse cx="564.1" cy="47.57" rx="1.45" ry="2.1"/><ellipse cx="564.1" cy="49.07" rx="1.45" ry="2.1"/><ellipse cx="564.1" cy="50.57" rx="1.45" ry="2.1"/><ellipse cx="564.1" cy="51.51" rx="1.45" ry="2.1"/><ellipse cx="565.4" cy="45.82" rx="1.45" ry="2.1"/><ellipse cx="565.4" cy="47.32" rx="1.45" ry="2.1"/><ellipse cx="565.4" cy="48.82" rx="1.45" ry="2.1"/><ellipse cx="565.4" cy="50.32" rx="1.45" ry="2.1"/><ellipse cx="565.4" cy="51.61" rx="1.45" ry="2.1"/><ellipse cx="566.6" cy="45.57" rx="1.45" ry="2.1"/><ellipse cx="566.6" cy="47.07" rx="1.45" ry="2.1"/><ellipse cx="566.6" cy="48.57" rx="1.45" ry="2.1"/><ellipse cx="566.6" cy="50.07" rx="1.45" ry="2.1"/><ellipse cx="566.6" cy="50.87" rx="1.45" ry="2.1"/><ellipse cx="567.9" cy="45.31" rx="1.45" ry="2.1"/><ellipse cx="567.9" cy="46.81" rx="1.45" ry="2.1"/><ellipse cx="567.9" cy="48.31" rx="1.45" ry="2.1"/><ellipse cx="567.9" cy="49.81" rx="1.45" ry="2.1"/><ellipse cx="567.9" cy="49.82" rx="1.45" ry="2.1"/><ellipse cx="569.1" cy="45.06" rx="1.45" ry="2.1"/><ellipse cx="569.1" cy="46.56" rx="1.45" ry="2.1"/><ellipse cx="569.1" cy="48.06" rx="1.45" ry="2.1"/><ellipse cx="569.1" cy="49.13" rx="1.45" ry="2.1"/><ellipse cx="570.4" cy="44.81" rx="1.45" ry="2.1"/><ellipse cx="570.4" cy="46.31" rx="1.45" ry="2.1"/><ellipse cx="570.4" cy="47.81" rx="1.45" ry="2.1"/><ellipse cx="570.4" cy="49.07" rx="1.45" ry="2.1"/><ellipse cx="571.6" cy="44.56" rx="1.45" ry="2.1"/><ellipse cx="571.6" cy="46.06" rx="1.45" ry="2.1"/><ellipse cx="571.6" cy="46.89" rx="1.45" ry="2.1"/><ellipse cx="572.9" cy="44.31" rx="1.45" ry="2.1"/><ellipse cx="572.9" cy="45.81" rx="1.45" ry="2.1"/><ellipse cx="572.9" cy="46.05" rx="1.45" ry="2.1"/><ellipse cx="574.1" cy="44.06" rx="1.45" ry="2.1"/><ellipse cx="574.1" cy="44.67" rx="1.45" ry="2.1"/><ellipse cx="575.4" cy="43.81" rx="1.45" ry="2.1"/><ellipse cx="575.4" cy="44.99" rx="1.45" ry="2.1"/><ellipse cx="576.6" cy="43.56" rx="1.45" ry="2.1"/><ellipse cx="576.6" cy="45.06" rx="1.45" ry="2.1"/><ellipse cx="577.9" cy="43.31" rx="1.45" ry="2.1"/><ellipse cx="577.9" cy="44.63" rx="1.45" ry="2.1"/><ellipse cx="579.1" cy="43.06" rx="1.45" ry="2.1"/><ellipse cx="579.1" cy="44.56" rx="1.45" ry="2.1"/><ellipse cx="579.1" cy="44.64" rx="1.45" ry="2.1"/><ellipse cx="580.4" cy="42.81" rx="1.45" ry="2.1"/><ellipse cx="580.4" cy="44.24" rx="1.45" ry="2.1"/><ellipse cx="581.6" cy="42.56" rx="1.45" ry="2.1"/><ellipse cx="581.6" cy="44.06" rx="1.45" ry="2.1"/><ellipse cx="581.6" cy="44.10" rx="1.45" ry="2.1"/><ellipse cx="582.9" cy="42.31" rx="1.45" ry="2.1"/><ellipse cx="582.9" cy="43.47" rx="1.45" ry="2.1"/><ellipse cx="584.1" cy="42.06" rx="1.45" ry="2.1"/><ellipse cx="584.1" cy="43.45" rx="1.45" ry="2.1"/><ellipse cx="585.4" cy="41.81" rx="1.45" ry="2.1"/><ellipse cx="585.4" cy="43.26" rx="1.45" ry="2.1"/><ellipse cx="586.6" cy="41.56" rx="1.45" ry="2.1"/><ellipse cx="586.6" cy="43.06" rx="1.45" ry="2.1"/><ellipse cx="586.6" cy="43.06" rx="1.45" ry="2.1"/><ellipse cx="587.9" cy="41.31" rx="1.45" ry="2.1"/><ellipse cx="587.9" cy="42.42" rx="1.45" ry="2.1"/><ellipse cx="589.1" cy="41.06" rx="1.45" ry="2.1"/><ellipse cx="589.1" cy="42.54" rx="1.45" ry="2.1"/><ellipse cx="590.4" cy="40.81" rx="1.45" ry="2.1"/><ellipse cx="590.4" cy="42.30" rx="1.45" ry="2.1"/><ellipse cx="591.6" cy="40.56" rx="1.45" ry="2.1"/><ellipse cx="591.6" cy="41.87" rx="1.45" ry="2.1"/><ellipse cx="592.9" cy="40.31" rx="1.45" ry="2.1"/><ellipse cx="592.9" cy="41.81" rx="1.45" ry="2.1"/><ellipse cx="592.9" cy="41.82" rx="1.45" ry="2.1"/><ellipse cx="594.1" cy="40.06" rx="1.45" ry="2.1"/><ellipse cx="594.1" cy="41.53" rx="1.45" ry="2.1"/><ellipse cx="595.4" cy="39.81" rx="1.45" ry="2.1"/><ellipse cx="595.4" cy="40.90" rx="1.45" ry="2.1"/><ellipse cx="596.6" cy="39.56" rx="1.45" ry="2.1"/><ellipse cx="596.6" cy="40.63" rx="1.45" ry="2.1"/><ellipse cx="597.9" cy="39.31" rx="1.45" ry="2.1"/><ellipse cx="597.9" cy="40.06" rx="1.45" ry="2.1"/><ellipse cx="599.1" cy="39.06" rx="1.45" ry="2.1"/><ellipse cx="599.1" cy="40.32" rx="1.45" ry="2.1"/><ellipse cx="600.4" cy="38.81" rx="1.45" ry="2.1"/><ellipse cx="600.4" cy="40.12" rx="1.45" ry="2.1"/><ellipse cx="601.6" cy="38.56" rx="1.45" ry="2.1"/><ellipse cx="601.6" cy="39.48" rx="1.45" ry="2.1"/><ellipse cx="602.9" cy="38.31" rx="1.45" ry="2.1"/><ellipse cx="602.9" cy="39.37" rx="1.45" ry="2.1"/><ellipse cx="604.1" cy="38.06" rx="1.45" ry="2.1"/><ellipse cx="604.1" cy="39.11" rx="1.45" ry="2.1"/><ellipse cx="605.4" cy="37.81" rx="1.45" ry="2.1"/><ellipse cx="605.4" cy="38.84" rx="1.45" ry="2.1"/><ellipse cx="606.6" cy="37.56" rx="1.45" ry="2.1"/><ellipse cx="606.6" cy="38.12" rx="1.45" ry="2.1"/><ellipse cx="607.9" cy="37.31" rx="1.45" ry="2.1"/><ellipse cx="607.9" cy="38.32" rx="1.45" ry="2.1"/><ellipse cx="609.1" cy="37.06" rx="1.45" ry="2.1"/><ellipse cx="609.1" cy="37.89" rx="1.45" ry="2.1"/><ellipse cx="610.4" cy="36.81" rx="1.45" ry="2.1"/><ellipse cx="610.4" cy="37.68" rx="1.45" ry="2.1"/><ellipse cx="611.6" cy="36.56" rx="1.45" ry="2.1"/><ellipse cx="611.6" cy="37.20" rx="1.45" ry="2.1"/><ellipse cx="612.9" cy="36.31" rx="1.45" ry="2.1"/><ellipse cx="612.9" cy="36.95" rx="1.45" ry="2.1"/><ellipse cx="614.1" cy="36.06" rx="1.45" ry="2.1"/><ellipse cx="614.1" cy="36.62" rx="1.45" ry="2.1"/><ellipse cx="615.4" cy="35.81" rx="1.45" ry="2.1"/><ellipse cx="615.4" cy="36.05" rx="1.45" ry="2.1"/><ellipse cx="616.6" cy="35.56" rx="1.45" ry="2.1"/><ellipse cx="616.6" cy="35.66" rx="1.45" ry="2.1"/><ellipse cx="617.9" cy="34.64" rx="1.45" ry="2.1"/><ellipse cx="619.1" cy="34.48" rx="1.45" ry="2.1"/><ellipse cx="620.4" cy="34.46" rx="1.45" ry="2.1"/><ellipse cx="621.6" cy="34.37" rx="1.45" ry="2.1"/><ellipse cx="622.9" cy="33.78" rx="1.45" ry="2.1"/><ellipse cx="624.1" cy="33.90" rx="1.45" ry="2.1"/><ellipse cx="625.4" cy="33.61" rx="1.45" ry="2.1"/><ellipse cx="626.6" cy="32.89" rx="1.45" ry="2.1"/><ellipse cx="627.9" cy="32.98" rx="1.45" ry="2.1"/><ellipse cx="629.1" cy="32.53" rx="1.45" ry="2.1"/><ellipse cx="630.4" cy="32.15" rx="1.45" ry="2.1"/><ellipse cx="631.6" cy="31.96" rx="1.45" ry="2.1"/><ellipse cx="632.9" cy="31.86" rx="1.45" ry="2.1"/><ellipse cx="634.1" cy="31.60" rx="1.45" ry="2.1"/><ellipse cx="635.4" cy="31.80" rx="1.45" ry="2.1"/><ellipse cx="635.4" cy="32.19" rx="1.45" ry="2.1"/><ellipse cx="636.6" cy="31.55" rx="1.45" ry="2.1"/><ellipse cx="636.6" cy="32.65" rx="1.45" ry="2.1"/><ellipse cx="637.9" cy="31.30" rx="1.45" ry="2.1"/><ellipse cx="637.9" cy="32.80" rx="1.45" ry="2.1"/><ellipse cx="637.9" cy="33.27" rx="1.45" ry="2.1"/><ellipse cx="639.1" cy="31.05" rx="1.45" ry="2.1"/><ellipse cx="639.1" cy="32.55" rx="1.45" ry="2.1"/><ellipse cx="639.1" cy="33.37" rx="1.45" ry="2.1"/><ellipse cx="640.4" cy="30.80" rx="1.45" ry="2.1"/><ellipse cx="640.4" cy="32.30" rx="1.45" ry="2.1"/><ellipse cx="640.4" cy="33.46" rx="1.45" ry="2.1"/><ellipse cx="641.6" cy="30.55" rx="1.45" ry="2.1"/><ellipse cx="641.6" cy="32.05" rx="1.45" ry="2.1"/><ellipse cx="641.6" cy="32.77" rx="1.45" ry="2.1"/><ellipse cx="642.9" cy="30.30" rx="1.45" ry="2.1"/><ellipse cx="642.9" cy="31.80" rx="1.45" ry="2.1"/><ellipse cx="642.9" cy="31.82" rx="1.45" ry="2.1"/><ellipse cx="644.1" cy="30.05" rx="1.45" ry="2.1"/><ellipse cx="644.1" cy="31.38" rx="1.45" ry="2.1"/><ellipse cx="645.4" cy="29.66" rx="1.45" ry="2.1"/><ellipse cx="435.3" cy="73.76" rx="1.45" ry="2.1"/><ellipse cx="435.3" cy="72.26" rx="1.45" ry="2.1"/><ellipse cx="465.0" cy="68.32" rx="1.45" ry="2.1"/><ellipse cx="465.0" cy="66.82" rx="1.45" ry="2.1"/><ellipse cx="489.6" cy="63.09" rx="1.45" ry="2.1"/><ellipse cx="489.6" cy="61.59" rx="1.45" ry="2.1"/><ellipse cx="508.2" cy="60.37" rx="1.45" ry="2.1"/><ellipse cx="508.2" cy="58.87" rx="1.45" ry="2.1"/><ellipse cx="525.5" cy="56.70" rx="1.45" ry="2.1"/><ellipse cx="525.5" cy="55.20" rx="1.45" ry="2.1"/></g>
<g fill="#246a28"><ellipse cx="411.4" cy="77.09" rx="1.45" ry="2.1"/><ellipse cx="413.1" cy="76.69" rx="1.45" ry="2.1"/><ellipse cx="414.9" cy="76.41" rx="1.45" ry="2.1"/><ellipse cx="416.6" cy="75.92" rx="1.45" ry="2.1"/><ellipse cx="418.2" cy="75.94" rx="1.45" ry="2.1"/><ellipse cx="419.9" cy="75.37" rx="1.45" ry="2.1"/><ellipse cx="421.6" cy="74.86" rx="1.45" ry="2.1"/><ellipse cx="423.4" cy="74.81" rx="1.45" ry="2.1"/><ellipse cx="425.1" cy="74.21" rx="1.45" ry="2.1"/><ellipse cx="426.8" cy="74.10" rx="1.45" ry="2.1"/><ellipse cx="428.4" cy="73.65" rx="1.45" ry="2.1"/><ellipse cx="430.1" cy="73.43" rx="1.45" ry="2.1"/><ellipse cx="431.9" cy="73.28" rx="1.45" ry="2.1"/><ellipse cx="433.6" cy="72.87" rx="1.45" ry="2.1"/><ellipse cx="435.2" cy="72.33" rx="1.45" ry="2.1"/><ellipse cx="436.9" cy="72.19" rx="1.45" ry="2.1"/><ellipse cx="438.6" cy="71.76" rx="1.45" ry="2.1"/><ellipse cx="440.4" cy="71.29" rx="1.45" ry="2.1"/><ellipse cx="442.1" cy="70.83" rx="1.45" ry="2.1"/><ellipse cx="443.8" cy="70.72" rx="1.45" ry="2.1"/><ellipse cx="445.4" cy="70.36" rx="1.45" ry="2.1"/><ellipse cx="450.9" cy="69.48" rx="1.45" ry="2.1"/><ellipse cx="452.6" cy="69.14" rx="1.45" ry="2.1"/><ellipse cx="459.4" cy="67.60" rx="1.45" ry="2.1"/><ellipse cx="461.1" cy="67.13" rx="1.45" ry="2.1"/><ellipse cx="462.8" cy="67.06" rx="1.45" ry="2.1"/><ellipse cx="464.4" cy="66.28" rx="1.45" ry="2.1"/><ellipse cx="466.1" cy="65.99" rx="1.45" ry="2.1"/><ellipse cx="467.9" cy="65.88" rx="1.45" ry="2.1"/><ellipse cx="469.6" cy="65.56" rx="1.45" ry="2.1"/><ellipse cx="471.2" cy="64.98" rx="1.45" ry="2.1"/><ellipse cx="472.9" cy="64.89" rx="1.45" ry="2.1"/><ellipse cx="474.6" cy="64.68" rx="1.45" ry="2.1"/><ellipse cx="476.4" cy="64.08" rx="1.45" ry="2.1"/><ellipse cx="478.1" cy="63.77" rx="1.45" ry="2.1"/><ellipse cx="479.8" cy="63.33" rx="1.45" ry="2.1"/><ellipse cx="481.4" cy="63.02" rx="1.45" ry="2.1"/><ellipse cx="483.1" cy="63.02" rx="1.45" ry="2.1"/><ellipse cx="484.9" cy="62.38" rx="1.45" ry="2.1"/><ellipse cx="486.6" cy="62.33" rx="1.45" ry="2.1"/><ellipse cx="488.2" cy="61.97" rx="1.45" ry="2.1"/><ellipse cx="489.9" cy="61.47" rx="1.45" ry="2.1"/><ellipse cx="491.6" cy="60.96" rx="1.45" ry="2.1"/><ellipse cx="496.6" cy="60.26" rx="1.45" ry="2.1"/><ellipse cx="497.9" cy="59.73" rx="1.45" ry="2.1"/><ellipse cx="499.1" cy="59.40" rx="1.45" ry="2.1"/><ellipse cx="500.4" cy="59.06" rx="1.45" ry="2.1"/><ellipse cx="501.6" cy="59.10" rx="1.45" ry="2.1"/><ellipse cx="502.9" cy="58.56" rx="1.45" ry="2.1"/><ellipse cx="504.1" cy="58.17" rx="1.45" ry="2.1"/><ellipse cx="505.4" cy="57.97" rx="1.45" ry="2.1"/><ellipse cx="506.6" cy="57.50" rx="1.45" ry="2.1"/><ellipse cx="507.9" cy="57.46" rx="1.45" ry="2.1"/><ellipse cx="509.1" cy="57.08" rx="1.45" ry="2.1"/><ellipse cx="510.4" cy="56.72" rx="1.45" ry="2.1"/><ellipse cx="511.6" cy="56.72" rx="1.45" ry="2.1"/><ellipse cx="512.9" cy="56.49" rx="1.45" ry="2.1"/><ellipse cx="514.1" cy="55.83" rx="1.45" ry="2.1"/><ellipse cx="515.4" cy="55.84" rx="1.45" ry="2.1"/><ellipse cx="516.6" cy="55.46" rx="1.45" ry="2.1"/><ellipse cx="517.9" cy="55.54" rx="1.45" ry="2.1"/><ellipse cx="519.1" cy="55.22" rx="1.45" ry="2.1"/><ellipse cx="520.4" cy="54.70" rx="1.45" ry="2.1"/><ellipse cx="521.6" cy="54.46" rx="1.45" ry="2.1"/><ellipse cx="522.9" cy="54.15" rx="1.45" ry="2.1"/><ellipse cx="524.1" cy="54.32" rx="1.45" ry="2.1"/><ellipse cx="525.4" cy="53.72" rx="1.45" ry="2.1"/><ellipse cx="526.6" cy="53.63" rx="1.45" ry="2.1"/><ellipse cx="527.9" cy="53.31" rx="1.45" ry="2.1"/><ellipse cx="529.1" cy="53.15" rx="1.45" ry="2.1"/><ellipse cx="530.4" cy="52.87" rx="1.45" ry="2.1"/><ellipse cx="531.6" cy="52.69" rx="1.45" ry="2.1"/><ellipse cx="532.9" cy="52.13" rx="1.45" ry="2.1"/><ellipse cx="534.1" cy="52.20" rx="1.45" ry="2.1"/><ellipse cx="535.4" cy="51.72" rx="1.45" ry="2.1"/><ellipse cx="536.6" cy="51.59" rx="1.45" ry="2.1"/><ellipse cx="537.9" cy="51.24" rx="1.45" ry="2.1"/><ellipse cx="539.1" cy="50.97" rx="1.45" ry="2.1"/><ellipse cx="540.4" cy="50.84" rx="1.45" ry="2.1"/><ellipse cx="541.6" cy="50.55" rx="1.45" ry="2.1"/><ellipse cx="542.9" cy="50.25" rx="1.45" ry="2.1"/><ellipse cx="544.1" cy="50.19" rx="1.45" ry="2.1"/><ellipse cx="545.4" cy="49.86" rx="1.45" ry="2.1"/><ellipse cx="546.6" cy="49.34" rx="1.45" ry="2.1"/><ellipse cx="547.9" cy="49.20" rx="1.45" ry="2.1"/><ellipse cx="549.1" cy="49.05" rx="1.45" ry="2.1"/><ellipse cx="550.4" cy="49.03" rx="1.45" ry="2.1"/><ellipse cx="551.6" cy="48.76" rx="1.45" ry="2.1"/><ellipse cx="552.9" cy="48.34" rx="1.45" ry="2.1"/><ellipse cx="554.1" cy="47.82" rx="1.45" ry="2.1"/><ellipse cx="555.4" cy="47.96" rx="1.45" ry="2.1"/><ellipse cx="556.6" cy="47.53" rx="1.45" ry="2.1"/><ellipse cx="557.9" cy="47.35" rx="1.45" ry="2.1"/><ellipse cx="559.1" cy="47.17" rx="1.45" ry="2.1"/><ellipse cx="560.4" cy="46.88" rx="1.45" ry="2.1"/><ellipse cx="561.6" cy="46.56" rx="1.45" ry="2.1"/><ellipse cx="562.9" cy="46.52" rx="1.45" ry="2.1"/><ellipse cx="564.1" cy="46.01" rx="1.45" ry="2.1"/><ellipse cx="565.4" cy="45.76" rx="1.45" ry="2.1"/><ellipse cx="566.6" cy="45.74" rx="1.45" ry="2.1"/><ellipse cx="567.9" cy="45.16" rx="1.45" ry="2.1"/><ellipse cx="569.1" cy="44.96" rx="1.45" ry="2.1"/><ellipse cx="570.4" cy="44.98" rx="1.45" ry="2.1"/><ellipse cx="571.6" cy="44.35" rx="1.45" ry="2.1"/><ellipse cx="572.9" cy="44.48" rx="1.45" ry="2.1"/><ellipse cx="574.1" cy="44.16" rx="1.45" ry="2.1"/><ellipse cx="575.4" cy="43.78" rx="1.45" ry="2.1"/><ellipse cx="576.6" cy="43.46" rx="1.45" ry="2.1"/><ellipse cx="577.9" cy="43.45" rx="1.45" ry="2.1"/><ellipse cx="579.1" cy="43.27" rx="1.45" ry="2.1"/><ellipse cx="580.4" cy="42.63" rx="1.45" ry="2.1"/><ellipse cx="581.6" cy="42.55" rx="1.45" ry="2.1"/><ellipse cx="582.9" cy="42.34" rx="1.45" ry="2.1"/><ellipse cx="584.1" cy="42.06" rx="1.45" ry="2.1"/><ellipse cx="585.4" cy="41.73" rx="1.45" ry="2.1"/><ellipse cx="586.6" cy="41.39" rx="1.45" ry="2.1"/><ellipse cx="587.9" cy="41.35" rx="1.45" ry="2.1"/><ellipse cx="589.1" cy="41.22" rx="1.45" ry="2.1"/><ellipse cx="590.4" cy="40.59" rx="1.45" ry="2.1"/><ellipse cx="591.6" cy="40.43" rx="1.45" ry="2.1"/><ellipse cx="592.9" cy="40.47" rx="1.45" ry="2.1"/><ellipse cx="594.1" cy="40.21" rx="1.45" ry="2.1"/><ellipse cx="595.4" cy="39.89" rx="1.45" ry="2.1"/><ellipse cx="596.6" cy="39.32" rx="1.45" ry="2.1"/><ellipse cx="597.9" cy="39.42" rx="1.45" ry="2.1"/><ellipse cx="599.1" cy="39.30" rx="1.45" ry="2.1"/><ellipse cx="600.4" cy="39.06" rx="1.45" ry="2.1"/><ellipse cx="601.6" cy="38.66" rx="1.45" ry="2.1"/><ellipse cx="602.9" cy="38.08" rx="1.45" ry="2.1"/><ellipse cx="604.1" cy="38.23" rx="1.45" ry="2.1"/><ellipse cx="605.4" cy="37.67" rx="1.45" ry="2.1"/><ellipse cx="606.6" cy="37.63" rx="1.45" ry="2.1"/><ellipse cx="607.9" cy="37.53" rx="1.45" ry="2.1"/><ellipse cx="609.1" cy="37.16" rx="1.45" ry="2.1"/><ellipse cx="610.4" cy="36.62" rx="1.45" ry="2.1"/><ellipse cx="611.6" cy="36.45" rx="1.45" ry="2.1"/><ellipse cx="612.9" cy="36.51" rx="1.45" ry="2.1"/><ellipse cx="614.1" cy="35.88" rx="1.45" ry="2.1"/><ellipse cx="615.4" cy="35.86" rx="1.45" ry="2.1"/><ellipse cx="616.6" cy="35.51" rx="1.45" ry="2.1"/><ellipse cx="617.9" cy="35.14" rx="1.45" ry="2.1"/><ellipse cx="619.1" cy="35.12" rx="1.45" ry="2.1"/><ellipse cx="620.4" cy="34.58" rx="1.45" ry="2.1"/><ellipse cx="621.6" cy="34.36" rx="1.45" ry="2.1"/><ellipse cx="622.9" cy="34.24" rx="1.45" ry="2.1"/><ellipse cx="624.1" cy="33.84" rx="1.45" ry="2.1"/><ellipse cx="625.4" cy="33.58" rx="1.45" ry="2.1"/><ellipse cx="626.6" cy="33.59" rx="1.45" ry="2.1"/><ellipse cx="627.9" cy="33.42" rx="1.45" ry="2.1"/><ellipse cx="629.1" cy="33.24" rx="1.45" ry="2.1"/><ellipse cx="630.4" cy="32.62" rx="1.45" ry="2.1"/><ellipse cx="631.6" cy="32.52" rx="1.45" ry="2.1"/><ellipse cx="632.9" cy="32.21" rx="1.45" ry="2.1"/><ellipse cx="634.1" cy="32.10" rx="1.45" ry="2.1"/><ellipse cx="635.4" cy="31.80" rx="1.45" ry="2.1"/><ellipse cx="636.6" cy="31.77" rx="1.45" ry="2.1"/><ellipse cx="637.9" cy="31.24" rx="1.45" ry="2.1"/><ellipse cx="639.1" cy="30.83" rx="1.45" ry="2.1"/><ellipse cx="640.4" cy="30.90" rx="1.45" ry="2.1"/><ellipse cx="641.6" cy="30.38" rx="1.45" ry="2.1"/><ellipse cx="642.9" cy="30.37" rx="1.45" ry="2.1"/><ellipse cx="644.1" cy="30.05" rx="1.45" ry="2.1"/><ellipse cx="645.4" cy="30.00" rx="1.45" ry="2.1"/></g>
<ellipse cx="500.4" cy="55.69" rx="1.45" ry="2.1" fill="#b4aec8"/><ellipse cx="501.6" cy="55.38" rx="1.45" ry="2.1" fill="#b4aec8"/><ellipse cx="502.9" cy="55.25" rx="1.45" ry="2.1" fill="#b4aec8"/><ellipse cx="504.1" cy="54.55" rx="1.45" ry="2.1" fill="#b4aec8"/><ellipse cx="505.4" cy="54.45" rx="1.45" ry="2.1" fill="#b4aec8"/><ellipse cx="506.6" cy="54.05" rx="1.45" ry="2.1" fill="#b4aec8"/><ellipse cx="507.9" cy="54.11" rx="1.45" ry="2.1" fill="#b4aec8"/><ellipse cx="509.1" cy="53.86" rx="1.45" ry="2.1" fill="#b4aec8"/><ellipse cx="510.4" cy="53.21" rx="1.45" ry="2.1" fill="#b4aec8"/><ellipse cx="511.6" cy="53.04" rx="1.45" ry="2.1" fill="#b4aec8"/><ellipse cx="512.9" cy="52.96" rx="1.45" ry="2.1" fill="#aaaaaa"/><ellipse cx="514.1" cy="52.93" rx="1.45" ry="2.1" fill="#b4aec8"/><ellipse cx="515.4" cy="52.63" rx="1.45" ry="2.1" fill="#b4aec8"/><ellipse cx="516.6" cy="51.98" rx="1.45" ry="2.1" fill="#b4aec8"/><ellipse cx="517.9" cy="52.10" rx="1.45" ry="2.1" fill="#aaaaaa"/><ellipse cx="519.1" cy="51.46" rx="1.45" ry="2.1" fill="#b4aec8"/><ellipse cx="520.4" cy="51.59" rx="1.45" ry="2.1" fill="#aaaaaa"/><ellipse cx="521.6" cy="50.97" rx="1.45" ry="2.1" fill="#aaaaaa"/><ellipse cx="522.9" cy="50.87" rx="1.45" ry="2.1" fill="#b4aec8"/><ellipse cx="524.1" cy="50.61" rx="1.45" ry="2.1" fill="#b4aec8"/><ellipse cx="525.4" cy="50.37" rx="1.45" ry="2.1" fill="#b4aec8"/><ellipse cx="526.6" cy="49.97" rx="1.45" ry="2.1" fill="#b4aec8"/><ellipse cx="527.9" cy="50.08" rx="1.45" ry="2.1" fill="#aaaaaa"/><ellipse cx="529.1" cy="49.68" rx="1.45" ry="2.1" fill="#aaaaaa"/><ellipse cx="530.4" cy="49.48" rx="1.45" ry="2.1" fill="#aaaaaa"/><ellipse cx="531.6" cy="49.27" rx="1.45" ry="2.1" fill="#b4aec8"/><ellipse cx="532.9" cy="48.90" rx="1.45" ry="2.1" fill="#b4aec8"/><ellipse cx="534.1" cy="48.39" rx="1.45" ry="2.1" fill="#b89a9a"/><ellipse cx="535.4" cy="48.15" rx="1.45" ry="2.1" fill="#b89a9a"/><ellipse cx="536.6" cy="48.21" rx="1.45" ry="2.1" fill="#aaaaaa"/><ellipse cx="537.9" cy="47.62" rx="1.45" ry="2.1" fill="#aaaaaa"/><ellipse cx="539.1" cy="47.99" rx="1.45" ry="2.1" fill="#b4aec8"/><ellipse cx="540.4" cy="47.42" rx="1.45" ry="2.1" fill="#b4aec8"/><ellipse cx="541.6" cy="46.94" rx="1.45" ry="2.1" fill="#b4aec8"/><ellipse cx="542.9" cy="46.73" rx="1.45" ry="2.1" fill="#b89a9a"/><ellipse cx="544.1" cy="46.64" rx="1.45" ry="2.1" fill="#b89a9a"/><ellipse cx="545.4" cy="46.23" rx="1.45" ry="2.1" fill="#aaaaaa"/><ellipse cx="546.6" cy="46.06" rx="1.45" ry="2.1" fill="#b89a9a"/><ellipse cx="547.9" cy="45.82" rx="1.45" ry="2.1" fill="#b89a9a"/><ellipse cx="549.1" cy="45.71" rx="1.45" ry="2.1" fill="#b89a9a"/><ellipse cx="550.4" cy="45.77" rx="1.45" ry="2.1" fill="#b89a9a"/><ellipse cx="551.6" cy="45.52" rx="1.45" ry="2.1" fill="#b89a9a"/><ellipse cx="552.9" cy="45.09" rx="1.45" ry="2.1" fill="#b4aec8"/><ellipse cx="554.1" cy="45.03" rx="1.45" ry="2.1" fill="#b4aec8"/><ellipse cx="555.4" cy="44.59" rx="1.45" ry="2.1" fill="#b89a9a"/><ellipse cx="556.6" cy="44.34" rx="1.45" ry="2.1" fill="#b89a9a"/><ellipse cx="557.9" cy="43.73" rx="1.45" ry="2.1" fill="#b4aec8"/><ellipse cx="559.1" cy="43.38" rx="1.45" ry="2.1" fill="#b89a9a"/><ellipse cx="560.4" cy="43.17" rx="1.45" ry="2.1" fill="#b89a9a"/><ellipse cx="561.6" cy="43.55" rx="1.45" ry="2.1" fill="#b89a9a"/><ellipse cx="562.9" cy="42.83" rx="1.45" ry="2.1" fill="#b89a9a"/><ellipse cx="564.1" cy="42.56" rx="1.45" ry="2.1" fill="#b4aec8"/><ellipse cx="565.4" cy="42.62" rx="1.45" ry="2.1" fill="#b4aec8"/><ellipse cx="566.6" cy="42.03" rx="1.45" ry="2.1" fill="#b89a9a"/><ellipse cx="567.9" cy="42.27" rx="1.45" ry="2.1" fill="#b4aec8"/><ellipse cx="569.1" cy="41.67" rx="1.45" ry="2.1" fill="#b4aec8"/><ellipse cx="570.4" cy="41.12" rx="1.45" ry="2.1" fill="#aaaaaa"/><ellipse cx="571.6" cy="41.41" rx="1.45" ry="2.1" fill="#b89a9a"/><ellipse cx="572.9" cy="40.65" rx="1.45" ry="2.1" fill="#b89a9a"/><ellipse cx="574.1" cy="41.06" rx="1.45" ry="2.1" fill="#b4aec8"/><ellipse cx="575.4" cy="40.36" rx="1.45" ry="2.1" fill="#b4aec8"/><ellipse cx="576.6" cy="39.91" rx="1.45" ry="2.1" fill="#b89a9a"/><ellipse cx="577.9" cy="39.96" rx="1.45" ry="2.1" fill="#aaaaaa"/><ellipse cx="579.1" cy="39.40" rx="1.45" ry="2.1" fill="#aaaaaa"/><ellipse cx="580.4" cy="39.15" rx="1.45" ry="2.1" fill="#b89a9a"/><ellipse cx="581.6" cy="38.90" rx="1.45" ry="2.1" fill="#b89a9a"/><ellipse cx="582.9" cy="38.90" rx="1.45" ry="2.1" fill="#b89a9a"/><ellipse cx="584.1" cy="38.40" rx="1.45" ry="2.1" fill="#b89a9a"/><ellipse cx="585.4" cy="38.79" rx="1.45" ry="2.1" fill="#b89a9a"/><ellipse cx="586.6" cy="38.22" rx="1.45" ry="2.1" fill="#b89a9a"/><ellipse cx="587.9" cy="37.98" rx="1.45" ry="2.1" fill="#b89a9a"/><ellipse cx="589.1" cy="37.58" rx="1.45" ry="2.1" fill="#b89a9a"/><ellipse cx="590.4" cy="37.49" rx="1.45" ry="2.1" fill="#b89a9a"/><ellipse cx="591.6" cy="37.28" rx="1.45" ry="2.1" fill="#aaaaaa"/><ellipse cx="592.9" cy="36.76" rx="1.45" ry="2.1" fill="#aaaaaa"/><ellipse cx="594.1" cy="36.74" rx="1.45" ry="2.1" fill="#b89a9a"/><ellipse cx="595.4" cy="36.51" rx="1.45" ry="2.1" fill="#b4aec8"/><ellipse cx="596.6" cy="36.30" rx="1.45" ry="2.1" fill="#b89a9a"/><ellipse cx="597.9" cy="36.25" rx="1.45" ry="2.1" fill="#b4aec8"/><ellipse cx="599.1" cy="35.67" rx="1.45" ry="2.1" fill="#b89a9a"/><ellipse cx="600.4" cy="35.27" rx="1.45" ry="2.1" fill="#aaaaaa"/><ellipse cx="601.6" cy="35.08" rx="1.45" ry="2.1" fill="#b89a9a"/><ellipse cx="602.9" cy="35.15" rx="1.45" ry="2.1" fill="#b89a9a"/><ellipse cx="604.1" cy="34.58" rx="1.45" ry="2.1" fill="#aaaaaa"/><ellipse cx="605.4" cy="34.16" rx="1.45" ry="2.1" fill="#b89a9a"/><ellipse cx="606.6" cy="33.92" rx="1.45" ry="2.1" fill="#b89a9a"/><ellipse cx="607.9" cy="34.01" rx="1.45" ry="2.1" fill="#b89a9a"/><ellipse cx="609.1" cy="33.40" rx="1.45" ry="2.1" fill="#b89a9a"/><ellipse cx="610.4" cy="33.14" rx="1.45" ry="2.1" fill="#b4aec8"/><ellipse cx="611.6" cy="33.06" rx="1.45" ry="2.1" fill="#b89a9a"/><ellipse cx="612.9" cy="32.67" rx="1.45" ry="2.1" fill="#b89a9a"/><ellipse cx="614.1" cy="32.58" rx="1.45" ry="2.1" fill="#b89a9a"/><ellipse cx="615.4" cy="32.49" rx="1.45" ry="2.1" fill="#aaaaaa"/><ellipse cx="616.6" cy="32.31" rx="1.45" ry="2.1" fill="#aaaaaa"/><ellipse cx="617.9" cy="32.01" rx="1.45" ry="2.1" fill="#aaaaaa"/><ellipse cx="619.1" cy="31.93" rx="1.45" ry="2.1" fill="#b89a9a"/><ellipse cx="620.4" cy="31.77" rx="1.45" ry="2.1" fill="#b4aec8"/><ellipse cx="621.6" cy="31.34" rx="1.45" ry="2.1" fill="#b4aec8"/><ellipse cx="622.9" cy="31.17" rx="1.45" ry="2.1" fill="#b89a9a"/><ellipse cx="624.1" cy="30.44" rx="1.45" ry="2.1" fill="#b89a9a"/><ellipse cx="625.4" cy="30.22" rx="1.45" ry="2.1" fill="#b89a9a"/><ellipse cx="626.6" cy="30.33" rx="1.45" ry="2.1" fill="#b89a9a"/><ellipse cx="627.9" cy="29.65" rx="1.45" ry="2.1" fill="#b89a9a"/><ellipse cx="629.1" cy="29.74" rx="1.45" ry="2.1" fill="#aaaaaa"/><ellipse cx="630.4" cy="29.14" rx="1.45" ry="2.1" fill="#b89a9a"/><ellipse cx="631.6" cy="29.10" rx="1.45" ry="2.1" fill="#b89a9a"/><ellipse cx="632.9" cy="29.27" rx="1.45" ry="2.1" fill="#aaaaaa"/><ellipse cx="634.1" cy="28.51" rx="1.45" ry="2.1" fill="#b4aec8"/><ellipse cx="635.4" cy="28.36" rx="1.45" ry="2.1" fill="#b89a9a"/><ellipse cx="636.6" cy="27.86" rx="1.45" ry="2.1" fill="#b89a9a"/><ellipse cx="637.9" cy="28.18" rx="1.45" ry="2.1" fill="#b4aec8"/><ellipse cx="639.1" cy="27.42" rx="1.45" ry="2.1" fill="#b4aec8"/><ellipse cx="640.4" cy="27.22" rx="1.45" ry="2.1" fill="#b4aec8"/><ellipse cx="641.6" cy="27.16" rx="1.45" ry="2.1" fill="#b4aec8"/><ellipse cx="642.9" cy="27.16" rx="1.45" ry="2.1" fill="#aaaaaa"/><ellipse cx="644.1" cy="26.57" rx="1.45" ry="2.1" fill="#b89a9a"/><ellipse cx="645.4" cy="26.42" rx="1.45" ry="2.1" fill="#aaaaaa"/><ellipse cx="591.5" cy="36.54" rx="1.45" ry="2.1" fill="#8a6470"/><ellipse cx="593.5" cy="36.14" rx="1.45" ry="2.1" fill="#8a6470"/><ellipse cx="595.5" cy="36.00" rx="1.45" ry="2.1" fill="#8a6470"/><ellipse cx="597.5" cy="35.74" rx="1.45" ry="2.1" fill="#8a6470"/><ellipse cx="599.5" cy="35.01" rx="1.45" ry="2.1" fill="#8a6470"/><ellipse cx="601.5" cy="34.96" rx="1.45" ry="2.1" fill="#8a6470"/><ellipse cx="603.5" cy="34.26" rx="1.45" ry="2.1" fill="#8a6470"/><ellipse cx="605.5" cy="33.47" rx="1.45" ry="2.1" fill="#8a6470"/>
<g fill="#d8d8dc" stroke="#9c9ca0" stroke-width="0.4"><ellipse cx="411.4" cy="75.21" rx="1.45" ry="2.1"/><ellipse cx="413.1" cy="74.40" rx="1.45" ry="2.1"/><ellipse cx="414.9" cy="73.62" rx="1.45" ry="2.1"/><ellipse cx="416.6" cy="74.39" rx="1.45" ry="2.1"/><ellipse cx="418.2" cy="72.91" rx="1.45" ry="2.1"/><ellipse cx="419.9" cy="73.23" rx="1.45" ry="2.1"/><ellipse cx="421.6" cy="72.77" rx="1.45" ry="2.1"/><ellipse cx="423.4" cy="72.91" rx="1.45" ry="2.1"/><ellipse cx="425.1" cy="71.98" rx="1.45" ry="2.1"/><ellipse cx="426.8" cy="71.43" rx="1.45" ry="2.1"/><ellipse cx="428.4" cy="71.17" rx="1.45" ry="2.1"/><ellipse cx="430.1" cy="70.73" rx="1.45" ry="2.1"/><ellipse cx="431.9" cy="70.83" rx="1.45" ry="2.1"/><ellipse cx="433.6" cy="70.24" rx="1.45" ry="2.1"/><ellipse cx="435.2" cy="70.37" rx="1.45" ry="2.1"/><ellipse cx="436.9" cy="69.42" rx="1.45" ry="2.1"/><ellipse cx="438.6" cy="69.21" rx="1.45" ry="2.1"/><ellipse cx="440.4" cy="68.75" rx="1.45" ry="2.1"/><ellipse cx="442.1" cy="69.29" rx="1.45" ry="2.1"/><ellipse cx="443.8" cy="68.78" rx="1.45" ry="2.1"/><ellipse cx="445.4" cy="68.45" rx="1.45" ry="2.1"/><ellipse cx="450.9" cy="67.09" rx="1.45" ry="2.1"/><ellipse cx="452.6" cy="66.49" rx="1.45" ry="2.1"/><ellipse cx="459.4" cy="64.82" rx="1.45" ry="2.1"/><ellipse cx="461.1" cy="65.30" rx="1.45" ry="2.1"/><ellipse cx="462.8" cy="64.55" rx="1.45" ry="2.1"/><ellipse cx="464.4" cy="63.67" rx="1.45" ry="2.1"/><ellipse cx="466.1" cy="63.49" rx="1.45" ry="2.1"/><ellipse cx="467.9" cy="63.06" rx="1.45" ry="2.1"/><ellipse cx="469.6" cy="63.47" rx="1.45" ry="2.1"/><ellipse cx="471.2" cy="63.34" rx="1.45" ry="2.1"/><ellipse cx="472.9" cy="62.16" rx="1.45" ry="2.1"/><ellipse cx="474.6" cy="62.54" rx="1.45" ry="2.1"/><ellipse cx="476.4" cy="61.63" rx="1.45" ry="2.1"/><ellipse cx="478.1" cy="61.72" rx="1.45" ry="2.1"/><ellipse cx="479.8" cy="61.60" rx="1.45" ry="2.1"/><ellipse cx="481.4" cy="60.97" rx="1.45" ry="2.1"/><ellipse cx="483.1" cy="60.84" rx="1.45" ry="2.1"/><ellipse cx="484.9" cy="59.99" rx="1.45" ry="2.1"/><ellipse cx="486.6" cy="59.21" rx="1.45" ry="2.1"/><ellipse cx="488.2" cy="59.47" rx="1.45" ry="2.1"/><ellipse cx="489.9" cy="59.22" rx="1.45" ry="2.1"/><ellipse cx="491.6" cy="58.40" rx="1.45" ry="2.1"/><ellipse cx="496.6" cy="57.62" rx="1.45" ry="2.1"/><ellipse cx="497.9" cy="57.27" rx="1.45" ry="2.1"/><ellipse cx="499.1" cy="56.66" rx="1.45" ry="2.1"/></g>
<g fill="#cdcdd0" stroke="#a4a4a8" stroke-width="0.3"><ellipse cx="500.4" cy="56.77" rx="1.45" ry="2.1"/><ellipse cx="501.6" cy="56.57" rx="1.45" ry="2.1"/><ellipse cx="502.9" cy="56.40" rx="1.45" ry="2.1"/><ellipse cx="504.1" cy="56.36" rx="1.45" ry="2.1"/><ellipse cx="505.4" cy="55.79" rx="1.45" ry="2.1"/><ellipse cx="506.6" cy="56.10" rx="1.45" ry="2.1"/><ellipse cx="507.9" cy="55.67" rx="1.45" ry="2.1"/><ellipse cx="509.1" cy="55.51" rx="1.45" ry="2.1"/><ellipse cx="510.4" cy="55.02" rx="1.45" ry="2.1"/><ellipse cx="511.6" cy="54.75" rx="1.45" ry="2.1"/><ellipse cx="512.9" cy="54.36" rx="1.45" ry="2.1"/><ellipse cx="514.1" cy="54.37" rx="1.45" ry="2.1"/><ellipse cx="515.4" cy="53.69" rx="1.45" ry="2.1"/><ellipse cx="516.6" cy="53.67" rx="1.45" ry="2.1"/><ellipse cx="517.9" cy="53.50" rx="1.45" ry="2.1"/><ellipse cx="519.1" cy="53.10" rx="1.45" ry="2.1"/><ellipse cx="520.4" cy="52.61" rx="1.45" ry="2.1"/><ellipse cx="521.6" cy="52.15" rx="1.45" ry="2.1"/><ellipse cx="522.9" cy="51.91" rx="1.45" ry="2.1"/><ellipse cx="524.1" cy="51.93" rx="1.45" ry="2.1"/><ellipse cx="525.4" cy="51.90" rx="1.45" ry="2.1"/><ellipse cx="526.6" cy="51.83" rx="1.45" ry="2.1"/><ellipse cx="527.9" cy="51.54" rx="1.45" ry="2.1"/><ellipse cx="529.1" cy="50.88" rx="1.45" ry="2.1"/><ellipse cx="530.4" cy="51.25" rx="1.45" ry="2.1"/><ellipse cx="531.6" cy="50.35" rx="1.45" ry="2.1"/><ellipse cx="532.9" cy="50.54" rx="1.45" ry="2.1"/><ellipse cx="534.1" cy="49.64" rx="1.45" ry="2.1"/><ellipse cx="535.4" cy="50.07" rx="1.45" ry="2.1"/><ellipse cx="536.6" cy="49.74" rx="1.45" ry="2.1"/><ellipse cx="537.9" cy="49.78" rx="1.45" ry="2.1"/><ellipse cx="539.1" cy="49.47" rx="1.45" ry="2.1"/><ellipse cx="540.4" cy="49.01" rx="1.45" ry="2.1"/><ellipse cx="541.6" cy="48.91" rx="1.45" ry="2.1"/><ellipse cx="542.9" cy="48.56" rx="1.45" ry="2.1"/><ellipse cx="544.1" cy="48.18" rx="1.45" ry="2.1"/><ellipse cx="545.4" cy="47.53" rx="1.45" ry="2.1"/><ellipse cx="546.6" cy="47.59" rx="1.45" ry="2.1"/><ellipse cx="547.9" cy="47.72" rx="1.45" ry="2.1"/><ellipse cx="549.1" cy="46.81" rx="1.45" ry="2.1"/><ellipse cx="550.4" cy="47.29" rx="1.45" ry="2.1"/><ellipse cx="551.6" cy="46.61" rx="1.45" ry="2.1"/><ellipse cx="552.9" cy="46.21" rx="1.45" ry="2.1"/><ellipse cx="554.1" cy="45.57" rx="1.45" ry="2.1"/><ellipse cx="555.4" cy="45.71" rx="1.45" ry="2.1"/><ellipse cx="556.6" cy="45.25" rx="1.45" ry="2.1"/><ellipse cx="557.9" cy="45.47" rx="1.45" ry="2.1"/><ellipse cx="559.1" cy="45.47" rx="1.45" ry="2.1"/><ellipse cx="560.4" cy="45.23" rx="1.45" ry="2.1"/><ellipse cx="561.6" cy="44.68" rx="1.45" ry="2.1"/><ellipse cx="562.9" cy="44.20" rx="1.45" ry="2.1"/><ellipse cx="564.1" cy="43.67" rx="1.45" ry="2.1"/><ellipse cx="565.4" cy="44.00" rx="1.45" ry="2.1"/><ellipse cx="566.6" cy="43.62" rx="1.45" ry="2.1"/><ellipse cx="567.9" cy="43.53" rx="1.45" ry="2.1"/><ellipse cx="569.1" cy="42.94" rx="1.45" ry="2.1"/><ellipse cx="570.4" cy="43.20" rx="1.45" ry="2.1"/><ellipse cx="571.6" cy="42.28" rx="1.45" ry="2.1"/><ellipse cx="572.9" cy="42.12" rx="1.45" ry="2.1"/><ellipse cx="574.1" cy="41.83" rx="1.45" ry="2.1"/><ellipse cx="575.4" cy="41.94" rx="1.45" ry="2.1"/><ellipse cx="576.6" cy="41.96" rx="1.45" ry="2.1"/><ellipse cx="577.9" cy="40.98" rx="1.45" ry="2.1"/><ellipse cx="579.1" cy="41.20" rx="1.45" ry="2.1"/><ellipse cx="580.4" cy="41.08" rx="1.45" ry="2.1"/><ellipse cx="581.6" cy="40.29" rx="1.45" ry="2.1"/><ellipse cx="582.9" cy="39.87" rx="1.45" ry="2.1"/><ellipse cx="584.1" cy="40.13" rx="1.45" ry="2.1"/><ellipse cx="585.4" cy="40.14" rx="1.45" ry="2.1"/><ellipse cx="586.6" cy="39.94" rx="1.45" ry="2.1"/><ellipse cx="587.9" cy="39.54" rx="1.45" ry="2.1"/><ellipse cx="589.1" cy="38.98" rx="1.45" ry="2.1"/><ellipse cx="590.4" cy="38.74" rx="1.45" ry="2.1"/><ellipse cx="591.6" cy="38.59" rx="1.45" ry="2.1"/><ellipse cx="592.9" cy="38.71" rx="1.45" ry="2.1"/><ellipse cx="594.1" cy="37.86" rx="1.45" ry="2.1"/><ellipse cx="595.4" cy="37.59" rx="1.45" ry="2.1"/><ellipse cx="596.6" cy="37.66" rx="1.45" ry="2.1"/><ellipse cx="597.9" cy="37.78" rx="1.45" ry="2.1"/><ellipse cx="599.1" cy="36.75" rx="1.45" ry="2.1"/><ellipse cx="600.4" cy="36.34" rx="1.45" ry="2.1"/><ellipse cx="601.6" cy="36.17" rx="1.45" ry="2.1"/><ellipse cx="602.9" cy="36.37" rx="1.45" ry="2.1"/><ellipse cx="604.1" cy="36.16" rx="1.45" ry="2.1"/><ellipse cx="605.4" cy="35.49" rx="1.45" ry="2.1"/><ellipse cx="606.6" cy="35.25" rx="1.45" ry="2.1"/><ellipse cx="607.9" cy="35.40" rx="1.45" ry="2.1"/><ellipse cx="609.1" cy="35.20" rx="1.45" ry="2.1"/><ellipse cx="610.4" cy="35.00" rx="1.45" ry="2.1"/><ellipse cx="611.6" cy="34.79" rx="1.45" ry="2.1"/><ellipse cx="612.9" cy="33.87" rx="1.45" ry="2.1"/><ellipse cx="614.1" cy="34.04" rx="1.45" ry="2.1"/><ellipse cx="615.4" cy="34.14" rx="1.45" ry="2.1"/><ellipse cx="616.6" cy="34.01" rx="1.45" ry="2.1"/><ellipse cx="617.9" cy="33.12" rx="1.45" ry="2.1"/><ellipse cx="619.1" cy="33.41" rx="1.45" ry="2.1"/><ellipse cx="620.4" cy="32.95" rx="1.45" ry="2.1"/><ellipse cx="621.6" cy="32.98" rx="1.45" ry="2.1"/><ellipse cx="622.9" cy="32.03" rx="1.45" ry="2.1"/><ellipse cx="624.1" cy="32.25" rx="1.45" ry="2.1"/><ellipse cx="625.4" cy="32.14" rx="1.45" ry="2.1"/><ellipse cx="626.6" cy="31.53" rx="1.45" ry="2.1"/><ellipse cx="627.9" cy="30.90" rx="1.45" ry="2.1"/><ellipse cx="629.1" cy="30.75" rx="1.45" ry="2.1"/><ellipse cx="630.4" cy="30.46" rx="1.45" ry="2.1"/><ellipse cx="631.6" cy="30.14" rx="1.45" ry="2.1"/><ellipse cx="632.9" cy="29.95" rx="1.45" ry="2.1"/><ellipse cx="634.1" cy="30.17" rx="1.45" ry="2.1"/><ellipse cx="635.4" cy="29.41" rx="1.45" ry="2.1"/><ellipse cx="636.6" cy="29.81" rx="1.45" ry="2.1"/><ellipse cx="637.9" cy="29.54" rx="1.45" ry="2.1"/><ellipse cx="639.1" cy="29.37" rx="1.45" ry="2.1"/><ellipse cx="640.4" cy="29.10" rx="1.45" ry="2.1"/><ellipse cx="641.6" cy="28.76" rx="1.45" ry="2.1"/><ellipse cx="642.9" cy="28.72" rx="1.45" ry="2.1"/><ellipse cx="644.1" cy="28.51" rx="1.45" ry="2.1"/><ellipse cx="645.4" cy="27.92" rx="1.45" ry="2.1"/></g>
<path d="M37.8 12 V168.7" stroke="#7a7a7a" stroke-width="1.7" fill="none"/>
<path d="M36.8 168.7 H673.5" stroke="#333" stroke-width="2" fill="none"/>
<path d="M36.0 29.2 H37.5" stroke="#222" stroke-width="1.3"/>
<path d="M36.0 55.2 H37.5" stroke="#222" stroke-width="1.3"/>
<path d="M36.0 81.2 H37.5" stroke="#222" stroke-width="1.3"/>
<path d="M36.0 107.2 H37.5" stroke="#222" stroke-width="1.3"/>
<path d="M36.0 133.2 H37.5" stroke="#222" stroke-width="1.3"/>
<path d="M36.0 159.2 H37.5" stroke="#222" stroke-width="1.3"/>
<path d="M59.3 169.5 V172" stroke="#555" stroke-width="1.2"/>
<path d="M124.0 169.5 V172" stroke="#555" stroke-width="1.2"/>
<path d="M188.8 169.5 V172" stroke="#555" stroke-width="1.2"/>
<path d="M253.5 169.5 V172" stroke="#555" stroke-width="1.2"/>
<path d="M318.3 169.5 V172" stroke="#555" stroke-width="1.2"/>
<path d="M383.0 169.5 V172" stroke="#555" stroke-width="1.2"/>
<path d="M447.8 169.5 V172" stroke="#555" stroke-width="1.2"/>
<path d="M512.5 169.5 V172" stroke="#555" stroke-width="1.2"/>
<path d="M577.3 169.5 V172" stroke="#555" stroke-width="1.2"/>
<path d="M642.0 169.5 V172" stroke="#555" stroke-width="1.2"/>
</g>
<g filter="url(#b)">
<text x="0" y="0" font-size="16.6" text-anchor="middle" transform="translate(336.5,17) scale(0.654,1)">Scatter Effects</text>
<text x="0" y="0" font-size="16.8" text-anchor="end" transform="translate(32.2,33.5) scale(0.645,1)">1</text>
<text x="0" y="0" font-size="16.8" text-anchor="end" transform="translate(32.2,85.4) scale(0.645,1)">0.8</text>
<text x="0" y="0" font-size="16.8" text-anchor="end" transform="translate(32.2,137.5) scale(0.645,1)">0.6</text>
<text x="0" y="0" font-size="16.8" text-anchor="middle" transform="translate(124.0,189.2) scale(0.645,1)">0.6</text>
<text x="0" y="0" font-size="16.8" text-anchor="middle" transform="translate(253.5,189.2) scale(0.645,1)">0.7</text>
<text x="0" y="0" font-size="16.8" text-anchor="middle" transform="translate(383.0,189.2) scale(0.645,1)">0.8</text>
<text x="0" y="0" font-size="16.8" text-anchor="middle" transform="translate(512.5,189.2) scale(0.645,1)">0.9</text>
<text x="0" y="0" font-size="16.8" text-anchor="middle" transform="translate(642.0,189.2) scale(0.645,1)">1</text>
<text x="0" y="0" font-size="16.6" text-anchor="middle" transform="translate(355.5,214.1) scale(0.654,1)">Mean</text>
<text font-size="16.6" text-anchor="middle" transform="translate(13.2,90.7) rotate(-90) scale(1,0.52)">ALL</text>
<ellipse cx="169.5" cy="239.8" rx="3.6" ry="6.1" fill="#0a0ae0" stroke="#0000a0" stroke-width="0.7"/>
<text x="0" y="0" font-size="12.5" text-anchor="start" font-style="italic" transform="translate(185.0,243.4) scale(0.75,1)">Unpurified</text>
<ellipse cx="290.8" cy="239.8" rx="3.6" ry="6.1" fill="#f01010" stroke="#b00000" stroke-width="0.7"/>
<text x="0" y="0" font-size="12.5" text-anchor="start" font-style="italic" transform="translate(306.3,243.4) scale(0.75,1)">Water treated</text>
<ellipse cx="412.3" cy="239.8" rx="3.6" ry="6.1" fill="#0a7a0a" stroke="#005000" stroke-width="0.7"/>
<text x="0" y="0" font-size="12.5" text-anchor="start" font-style="italic" transform="translate(427.8,243.4) scale(0.75,1)">CDA treated (1 wt/wt%)</text>
<ellipse cx="169.5" cy="259.6" rx="3.6" ry="6.1" fill="#a8cdf5" stroke="#90b4e0" stroke-width="0.7"/>
<text x="0" y="0" font-size="12.5" text-anchor="start" font-style="italic" transform="translate(185.0,263.2) scale(0.75,1)">CDA treated (2 wt/wt%)</text>
<ellipse cx="290.8" cy="259.6" rx="3.6" ry="6.1" fill="#6a0a0a" stroke="#400000" stroke-width="0.7"/>
<text x="0" y="0" font-size="12.5" text-anchor="start" font-style="italic" transform="translate(306.3,263.2) scale(0.75,1)">CDA treated (3 wt/wt%)</text>
<ellipse cx="412.3" cy="259.6" rx="3.6" ry="6.1" fill="#c4c4c4" stroke="#a8a8a8" stroke-width="0.7"/>
<text x="0" y="0" font-size="12.5" text-anchor="start" font-style="italic" transform="translate(427.8,263.2) scale(0.75,1)">CDA treated (4 wt/wt%)</text>
</g>
</svg></body></html>
